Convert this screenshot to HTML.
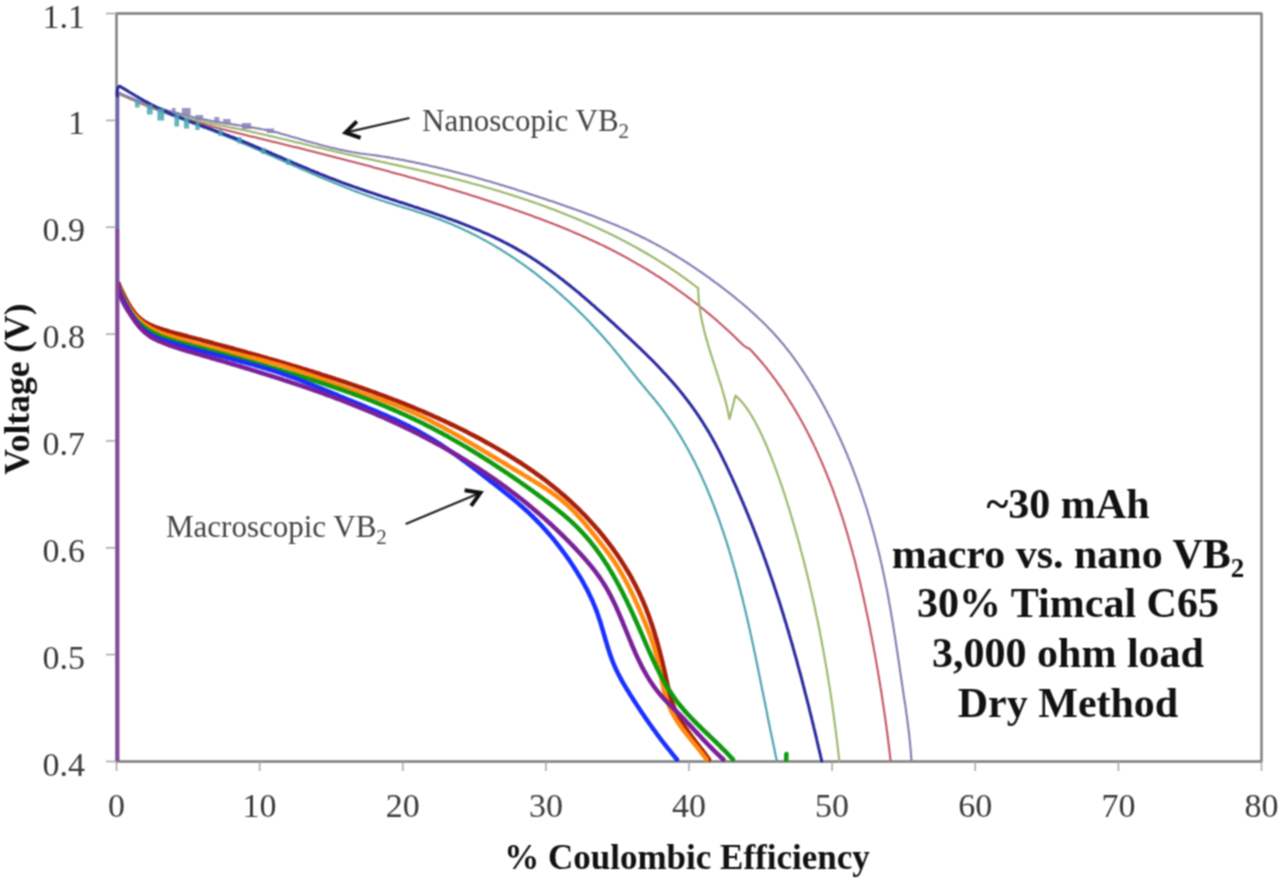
<!DOCTYPE html>
<html><head><meta charset="utf-8"><style>
html,body{margin:0;padding:0;background:#fff;}
body{width:1280px;height:881px;position:relative;overflow:hidden;font-family:"Liberation Serif",serif;}
#wrap{position:absolute;left:0;top:0;width:1280px;height:881px;filter:url(#soft);}
svg{position:absolute;left:0;top:0;}
.yl{position:absolute;left:0;width:85px;text-align:right;font-size:34px;line-height:38px;color:#3a3a3a;}
.xl{position:absolute;top:787px;width:80px;text-align:center;font-size:34px;line-height:38px;color:#3a3a3a;}
.ytitle{position:absolute;left:-83.5px;top:369px;width:200px;height:40px;line-height:40px;text-align:center;transform:rotate(-90deg);font-weight:bold;font-size:35.5px;color:#111;}
.xtitle{position:absolute;left:437px;top:838px;width:500px;text-align:center;font-weight:bold;font-size:35px;line-height:40px;color:#111;}
.note{position:absolute;font-size:31px;line-height:34px;color:#444;white-space:nowrap;}
.note sub{font-size:21px;vertical-align:-7px;line-height:0;}
.info{position:absolute;left:868px;top:480px;width:400px;text-align:center;font-weight:bold;font-size:42px;line-height:49.7px;color:#111;white-space:nowrap;}
.info sub{font-size:27px;vertical-align:-9px;line-height:0;}
</style></head><body><svg width="0" height="0" style="position:absolute;left:0;top:0"><filter id="soft" x="0" y="0" width="1" height="1" color-interpolation-filters="sRGB"><feConvolveMatrix order="3" kernelMatrix="1 2 1 2 4 2 1 2 1" divisor="16" edgeMode="none"/></filter></svg><div id="wrap">
<svg width="1280" height="881" viewBox="0 0 1280 881">
<rect x="116.5" y="13.5" width="1145.0" height="748.0" fill="none" stroke="#7c7c7c" stroke-width="2.4" stroke-linejoin="round"/>
<line x1="106" y1="761.5" x2="116.5" y2="761.5" stroke="#a4a4a4" stroke-width="1.5"/>
<line x1="106" y1="654.6" x2="116.5" y2="654.6" stroke="#a4a4a4" stroke-width="1.5"/>
<line x1="106" y1="547.8" x2="116.5" y2="547.8" stroke="#a4a4a4" stroke-width="1.5"/>
<line x1="106" y1="440.9" x2="116.5" y2="440.9" stroke="#a4a4a4" stroke-width="1.5"/>
<line x1="106" y1="334.1" x2="116.5" y2="334.1" stroke="#a4a4a4" stroke-width="1.5"/>
<line x1="106" y1="227.2" x2="116.5" y2="227.2" stroke="#a4a4a4" stroke-width="1.5"/>
<line x1="106" y1="120.4" x2="116.5" y2="120.4" stroke="#a4a4a4" stroke-width="1.5"/>
<line x1="106" y1="13.5" x2="116.5" y2="13.5" stroke="#a4a4a4" stroke-width="1.5"/>
<line x1="116.5" y1="761.5" x2="116.5" y2="771" stroke="#a4a4a4" stroke-width="1.5"/>
<line x1="259.6" y1="761.5" x2="259.6" y2="771" stroke="#a4a4a4" stroke-width="1.5"/>
<line x1="402.8" y1="761.5" x2="402.8" y2="771" stroke="#a4a4a4" stroke-width="1.5"/>
<line x1="545.9" y1="761.5" x2="545.9" y2="771" stroke="#a4a4a4" stroke-width="1.5"/>
<line x1="689.0" y1="761.5" x2="689.0" y2="771" stroke="#a4a4a4" stroke-width="1.5"/>
<line x1="832.1" y1="761.5" x2="832.1" y2="771" stroke="#a4a4a4" stroke-width="1.5"/>
<line x1="975.2" y1="761.5" x2="975.2" y2="771" stroke="#a4a4a4" stroke-width="1.5"/>
<line x1="1118.4" y1="761.5" x2="1118.4" y2="771" stroke="#a4a4a4" stroke-width="1.5"/>
<line x1="1261.5" y1="761.5" x2="1261.5" y2="771" stroke="#a4a4a4" stroke-width="1.5"/>
<line x1="117.6" y1="761" x2="117.6" y2="93" stroke="#6c66b0" stroke-width="3.4"/>
<path d="M118.5,93.5 L120.3,94.3 122.1,95.2 124.0,96.0 125.8,96.8 127.6,97.6 129.5,98.5 131.3,99.3 133.1,100.0 135.0,100.8 136.8,101.6 138.7,102.4 140.5,103.2 142.4,103.9 144.2,104.7 146.1,105.4 148.0,106.2 149.8,106.9 151.7,107.7 153.6,108.4 155.4,109.1 157.3,109.8 159.2,110.6 161.0,111.3 162.9,112.0 164.8,112.7 166.6,113.4 168.5,114.1 170.4,114.9 172.3,115.6 174.1,116.3 176.0,117.0 177.9,117.7 179.8,118.4 181.7,119.1 183.5,119.8 185.4,120.5 187.3,121.2 189.2,121.9 191.1,122.6 192.9,123.3 194.8,124.0 196.7,124.7 198.6,125.4 200.4,126.1 202.3,126.9 204.2,127.6 206.0,128.3 207.9,129.0 209.8,129.7 211.7,130.5 213.5,131.2 215.4,131.9 217.3,132.7 219.1,133.4 221.0,134.2 222.8,134.9 224.7,135.7 226.5,136.5 228.4,137.2 230.2,138.0 232.1,138.8 234.0,139.5 235.8,140.3 237.6,141.1 239.5,141.9 241.3,142.7 243.2,143.4 245.0,144.2 246.9,145.0 248.7,145.8 250.6,146.6 252.4,147.4 254.2,148.2 256.1,149.0 257.9,149.8 259.8,150.6 261.6,151.4 263.4,152.2 265.3,153.0 267.1,153.9 268.9,154.7 270.8,155.5 272.6,156.3 274.4,157.1 276.3,157.9 278.1,158.7 279.9,159.5 281.8,160.3 283.6,161.2 285.5,162.0 287.3,162.8 289.1,163.6 291.0,164.4 292.8,165.2 294.6,166.0 296.5,166.8 298.3,167.6 300.1,168.4 302.0,169.2 303.8,170.0 305.7,170.8 307.5,171.6 309.3,172.4 311.2,173.2 313.0,174.0 314.9,174.8 316.7,175.6 318.6,176.4 320.4,177.2 322.3,177.9 324.1,178.7 326.0,179.5 327.8,180.3 329.7,181.0 331.5,181.8 333.4,182.6 335.2,183.3 337.1,184.1 338.9,184.8 340.8,185.6 342.7,186.3 344.5,187.0 346.4,187.8 348.3,188.5 350.1,189.2 352.0,189.9 353.9,190.7 355.7,191.4 357.6,192.1 359.5,192.8 361.4,193.5 363.3,194.2 365.1,194.8 367.0,195.5 368.9,196.2 370.8,196.9 372.7,197.5 374.6,198.2 376.5,198.8 378.4,199.5 380.3,200.1 382.2,200.7 384.1,201.3 386.0,202.0 387.9,202.6 389.9,203.2 391.8,203.8 393.7,204.4 395.6,205.0 397.5,205.6 399.4,206.2 401.4,206.8 403.3,207.4 405.2,208.0 407.1,208.5 409.0,209.1 411.0,209.7 412.9,210.3 414.8,211.0 416.7,211.6 418.6,212.2 420.5,212.8 422.4,213.4 424.3,214.0 426.3,214.7 428.2,215.3 430.1,216.0 431.9,216.6 433.8,217.3 435.7,218.0 437.6,218.7 439.5,219.4 441.4,220.1 443.2,220.8 445.1,221.6 447.0,222.3 448.8,223.1 450.7,223.8 452.5,224.6 454.4,225.4 456.2,226.2 458.0,227.0 459.9,227.8 461.7,228.7 463.5,229.5 465.3,230.4 467.1,231.2 468.9,232.1 470.7,233.0 472.5,233.9 474.3,234.8 476.1,235.7 477.9,236.6 479.7,237.6 481.4,238.5 483.2,239.5 485.0,240.4 486.7,241.4 488.5,242.4 490.2,243.4 492.0,244.4 493.7,245.4 495.4,246.4 497.1,247.5 498.9,248.5 500.6,249.5 502.3,250.6 504.0,251.7 505.7,252.7 507.4,253.8 509.1,254.9 510.7,256.0 512.4,257.1 514.1,258.2 515.8,259.3 517.4,260.5 519.1,261.6 520.7,262.8 522.4,263.9 524.0,265.1 525.6,266.2 527.2,267.4 528.9,268.6 530.5,269.8 532.1,271.0 533.7,272.2 535.3,273.4 536.9,274.6 538.5,275.9 540.0,277.1 541.6,278.4 543.2,279.6 544.7,280.9 546.3,282.1 547.8,283.4 549.4,284.7 550.9,286.0 552.5,287.2 554.0,288.5 555.5,289.8 557.0,291.2 558.5,292.5 560.0,293.8 561.5,295.1 563.0,296.5 564.5,297.8 566.0,299.2 567.5,300.5 568.9,301.9 570.4,303.2 571.9,304.6 573.3,306.0 574.8,307.4 576.2,308.8 577.7,310.2 579.1,311.6 580.5,313.0 581.9,314.4 583.4,315.8 584.8,317.3 586.2,318.7 587.6,320.1 589.0,321.6 590.3,323.0 591.7,324.5 593.1,325.9 594.5,327.4 595.8,328.9 597.2,330.3 598.5,331.8 599.9,333.3 601.2,334.8 602.6,336.3 603.9,337.8 605.2,339.3 606.6,340.8 607.9,342.3 609.2,343.8 610.5,345.4 611.8,346.9 613.1,348.4 614.4,350.0 615.6,351.5 616.9,353.1 618.2,354.6 619.5,356.2 620.7,357.7 622.0,359.3 623.2,360.9 624.5,362.4 625.7,364.0 626.9,365.6 628.2,367.1 629.4,368.7 630.7,370.3 631.9,371.9 633.2,373.4 634.4,375.0 635.7,376.6 636.9,378.2 638.2,379.7 639.4,381.3 640.7,382.8 642.0,384.4 643.3,385.9 644.6,387.5 645.8,389.0 647.1,390.6 648.4,392.1 649.7,393.7 651.0,395.2 652.3,396.7 653.6,398.3 654.9,399.9 656.1,401.4 657.4,403.0 658.6,404.6 659.9,406.1 661.1,407.7 662.3,409.3 663.5,410.9 664.7,412.6 665.8,414.2 667.0,415.8 668.2,417.4 669.3,419.1 670.4,420.7 671.6,422.4 672.7,424.0 673.8,425.7 674.9,427.4 676.0,429.1 677.0,430.8 678.1,432.5 679.1,434.2 680.2,435.9 681.2,437.6 682.2,439.3 683.2,441.0 684.2,442.8 685.2,444.5 686.2,446.2 687.2,448.0 688.2,449.7 689.1,451.5 690.1,453.3 691.0,455.0 691.9,456.8 692.8,458.6 693.8,460.4 694.7,462.1 695.6,463.9 696.4,465.7 697.3,467.5 698.2,469.3 699.1,471.1 699.9,473.0 700.8,474.8 701.6,476.6 702.4,478.4 703.2,480.3 704.1,482.1 704.9,483.9 705.7,485.8 706.5,487.6 707.2,489.4 708.0,491.3 708.8,493.1 709.5,495.0 710.3,496.8 711.1,498.7 711.8,500.6 712.5,502.4 713.3,504.3 714.0,506.2 714.7,508.0 715.4,509.9 716.1,511.8 716.8,513.7 717.5,515.5 718.2,517.4 718.9,519.3 719.5,521.2 720.2,523.1 720.9,525.0 721.5,526.9 722.2,528.8 722.8,530.7 723.5,532.6 724.1,534.5 724.7,536.4 725.3,538.3 726.0,540.2 726.6,542.1 727.2,544.0 727.8,545.9 728.4,547.8 729.0,549.7 729.5,551.6 730.1,553.6 730.7,555.5 731.3,557.4 731.8,559.3 732.4,561.2 733.0,563.2 733.5,565.1 734.1,567.0 734.6,569.0 735.2,570.9 735.7,572.8 736.2,574.7 736.7,576.7 737.3,578.6 737.8,580.6 738.3,582.5 738.8,584.4 739.3,586.4 739.8,588.3 740.3,590.3 740.8,592.2 741.3,594.2 741.8,596.1 742.3,598.1 742.8,600.0 743.3,602.0 743.7,603.9 744.2,605.9 744.7,607.8 745.1,609.8 745.6,611.7 746.1,613.7 746.5,615.6 747.0,617.6 747.4,619.6 747.9,621.5 748.3,623.5 748.8,625.4 749.2,627.4 749.6,629.4 750.1,631.3 750.5,633.3 751.0,635.2 751.4,637.2 751.8,639.2 752.2,641.1 752.7,643.1 753.1,645.1 753.5,647.0 753.9,649.0 754.3,651.0 754.8,652.9 755.2,654.9 755.6,656.9 756.0,658.9 756.4,660.8 756.8,662.8 757.2,664.8 757.6,666.7 758.0,668.7 758.4,670.7 758.8,672.6 759.2,674.6 759.6,676.6 760.0,678.6 760.4,680.5 760.8,682.5 761.2,684.5 761.6,686.4 762.0,688.4 762.4,690.4 762.8,692.3 763.2,694.3 763.6,696.3 764.0,698.3 764.4,700.2 764.8,702.2 765.2,704.2 765.6,706.1 766.0,708.1 766.4,710.1 766.8,712.0 767.2,714.0 767.5,716.0 767.9,717.9 768.3,719.9 768.7,721.9 769.1,723.8 769.5,725.8 769.9,727.8 770.3,729.7 770.7,731.7 771.1,733.6 771.5,735.6 771.9,737.6 772.4,739.5 772.8,741.5 773.2,743.4 773.6,745.4 774.0,747.3 774.4,749.3 774.8,751.2 775.2,753.2 775.6,755.2 776.1,757.1 776.5,759.1 776.9,761.0" fill="none" stroke="#4ea4b0" stroke-width="2.2" stroke-linejoin="round" stroke-linecap="round"/>
<path d="M118.5,93.5 L120.3,94.4 122.2,95.2 124.0,96.0 125.8,96.9 127.7,97.7 129.5,98.5 131.4,99.3 133.2,100.1 135.1,100.9 136.9,101.7 138.8,102.4 140.6,103.2 142.5,103.9 144.4,104.7 146.2,105.4 148.1,106.1 150.0,106.8 151.9,107.5 153.8,108.2 155.6,108.9 157.5,109.6 159.4,110.3 161.3,111.0 163.2,111.6 165.1,112.3 167.0,112.9 168.9,113.6 170.8,114.2 172.7,114.8 174.6,115.5 176.5,116.1 178.4,116.7 180.3,117.3 182.3,117.9 184.2,118.5 186.1,119.1 188.0,119.6 189.9,120.2 191.9,120.8 193.8,121.4 195.7,121.9 197.6,122.5 199.6,123.0 201.5,123.6 203.4,124.1 205.4,124.6 207.3,125.2 209.2,125.7 211.2,126.2 213.1,126.8 215.1,127.3 217.0,127.8 218.9,128.3 220.9,128.8 222.8,129.3 224.8,129.8 226.7,130.3 228.7,130.8 230.6,131.3 232.6,131.8 234.5,132.3 236.5,132.8 238.4,133.3 240.4,133.8 242.3,134.2 244.3,134.7 246.2,135.2 248.2,135.7 250.1,136.2 252.1,136.6 254.0,137.1 256.0,137.6 257.9,138.1 259.9,138.5 261.9,139.0 263.8,139.5 265.8,140.0 267.7,140.4 269.7,140.9 271.6,141.4 273.6,141.9 275.5,142.3 277.5,142.8 279.4,143.3 281.4,143.8 283.3,144.3 285.3,144.7 287.2,145.2 289.2,145.7 291.2,146.2 293.1,146.7 295.1,147.1 297.0,147.6 299.0,148.1 300.9,148.6 302.9,149.1 304.8,149.6 306.8,150.1 308.7,150.5 310.7,151.0 312.6,151.5 314.6,152.0 316.5,152.5 318.4,153.0 320.4,153.5 322.3,154.0 324.3,154.5 326.2,155.0 328.2,155.5 330.1,156.0 332.1,156.5 334.0,157.0 336.0,157.5 337.9,158.0 339.9,158.5 341.8,159.0 343.8,159.5 345.7,160.0 347.6,160.5 349.6,161.0 351.5,161.5 353.5,162.0 355.4,162.5 357.4,163.0 359.3,163.6 361.2,164.1 363.2,164.6 365.1,165.1 367.1,165.6 369.0,166.1 371.0,166.6 372.9,167.2 374.8,167.7 376.8,168.2 378.7,168.7 380.7,169.2 382.6,169.8 384.5,170.3 386.5,170.8 388.4,171.3 390.4,171.9 392.3,172.4 394.2,172.9 396.2,173.5 398.1,174.0 400.1,174.5 402.0,175.1 403.9,175.6 405.9,176.1 407.8,176.7 409.7,177.2 411.7,177.8 413.6,178.3 415.5,178.8 417.5,179.4 419.4,179.9 421.3,180.5 423.3,181.0 425.2,181.6 427.1,182.1 429.1,182.7 431.0,183.3 432.9,183.8 434.9,184.4 436.8,184.9 438.7,185.5 440.7,186.1 442.6,186.6 444.5,187.2 446.4,187.8 448.4,188.4 450.3,188.9 452.2,189.5 454.1,190.1 456.1,190.7 458.0,191.3 459.9,191.8 461.8,192.4 463.7,193.0 465.7,193.6 467.6,194.2 469.5,194.8 471.4,195.4 473.3,196.0 475.3,196.6 477.2,197.2 479.1,197.8 481.0,198.4 482.9,199.1 484.8,199.7 486.7,200.3 488.7,200.9 490.6,201.5 492.5,202.2 494.4,202.8 496.3,203.4 498.2,204.1 500.1,204.7 502.0,205.3 503.9,206.0 505.8,206.6 507.7,207.3 509.6,207.9 511.5,208.6 513.4,209.3 515.3,209.9 517.2,210.6 519.1,211.2 521.0,211.9 522.9,212.6 524.8,213.3 526.7,213.9 528.6,214.6 530.5,215.3 532.4,216.0 534.3,216.7 536.1,217.4 538.0,218.1 539.9,218.8 541.8,219.5 543.7,220.2 545.5,220.9 547.4,221.6 549.3,222.4 551.2,223.1 553.0,223.8 554.9,224.6 556.8,225.3 558.7,226.0 560.5,226.8 562.4,227.5 564.2,228.3 566.1,229.1 568.0,229.8 569.8,230.6 571.7,231.4 573.5,232.2 575.4,233.0 577.2,233.8 579.0,234.5 580.9,235.4 582.7,236.2 584.6,237.0 586.4,237.8 588.2,238.6 590.0,239.5 591.9,240.3 593.7,241.1 595.5,242.0 597.3,242.8 599.1,243.7 601.0,244.6 602.8,245.4 604.6,246.3 606.4,247.2 608.2,248.1 610.0,249.0 611.8,249.9 613.5,250.8 615.3,251.7 617.1,252.7 618.9,253.6 620.7,254.5 622.4,255.5 624.2,256.4 626.0,257.4 627.7,258.4 629.5,259.3 631.2,260.3 633.0,261.3 634.7,262.3 636.5,263.3 638.2,264.3 640.0,265.3 641.7,266.3 643.4,267.4 645.1,268.4 646.9,269.4 648.6,270.5 650.3,271.6 652.0,272.6 653.7,273.7 655.4,274.8 657.1,275.8 658.8,276.9 660.5,278.0 662.2,279.1 663.8,280.2 665.5,281.3 667.2,282.5 668.8,283.6 670.5,284.7 672.2,285.9 673.8,287.0 675.5,288.2 677.1,289.3 678.7,290.5 680.4,291.7 682.0,292.8 683.6,294.0 685.2,295.2 686.9,296.4 688.5,297.6 690.1,298.8 691.7,300.0 693.3,301.3 694.9,302.5 696.5,303.7 698.0,305.0 699.6,306.2 701.2,307.5 702.7,308.7 704.3,310.0 705.9,311.3 707.4,312.6 709.0,313.8 710.5,315.1 712.0,316.4 713.6,317.7 715.1,319.0 716.6,320.3 718.1,321.7 719.6,323.0 721.1,324.3 722.6,325.7 724.1,327.0 725.6,328.4 727.1,329.7 728.6,331.1 730.0,332.4 731.5,333.8 733.0,335.2 734.4,336.6 735.9,338.0 737.3,339.4 738.7,340.8 740.2,342.2 741.6,343.6 743.0,345.0 746.5,347.5 749.5,348.8 750.9,350.3 752.3,351.7 753.7,353.2 755.0,354.7 756.4,356.2 757.7,357.7 759.0,359.2 760.3,360.8 761.6,362.3 762.9,363.8 764.2,365.4 765.5,366.9 766.8,368.5 768.0,370.1 769.2,371.7 770.5,373.3 771.7,374.9 772.9,376.5 774.1,378.1 775.3,379.7 776.5,381.3 777.6,383.0 778.8,384.6 780.0,386.3 781.1,387.9 782.2,389.6 783.4,391.2 784.5,392.9 785.6,394.6 786.7,396.3 787.8,398.0 788.9,399.7 789.9,401.4 791.0,403.1 792.0,404.8 793.1,406.5 794.1,408.3 795.2,410.0 796.2,411.7 797.2,413.5 798.2,415.2 799.2,417.0 800.2,418.7 801.2,420.5 802.2,422.2 803.1,424.0 804.1,425.8 805.0,427.6 806.0,429.4 806.9,431.1 807.8,432.9 808.8,434.7 809.7,436.5 810.6,438.3 811.5,440.2 812.4,442.0 813.3,443.8 814.1,445.6 815.0,447.4 815.9,449.3 816.7,451.1 817.6,452.9 818.4,454.8 819.2,456.6 820.0,458.4 820.9,460.3 821.7,462.2 822.5,464.0 823.3,465.9 824.1,467.7 824.8,469.6 825.6,471.5 826.4,473.3 827.1,475.2 827.9,477.1 828.6,479.0 829.4,480.8 830.1,482.7 830.8,484.6 831.6,486.5 832.3,488.4 833.0,490.3 833.7,492.2 834.4,494.1 835.0,496.0 835.7,497.9 836.4,499.8 837.1,501.7 837.7,503.6 838.4,505.5 839.0,507.4 839.7,509.3 840.3,511.2 840.9,513.1 841.6,515.1 842.2,517.0 842.8,518.9 843.4,520.8 844.0,522.7 844.6,524.7 845.2,526.6 845.8,528.5 846.4,530.5 846.9,532.4 847.5,534.3 848.1,536.3 848.6,538.2 849.2,540.1 849.7,542.1 850.3,544.0 850.8,545.9 851.3,547.9 851.9,549.8 852.4,551.8 852.9,553.7 853.4,555.7 854.0,557.6 854.5,559.6 855.0,561.5 855.5,563.5 856.0,565.4 856.4,567.4 856.9,569.4 857.4,571.3 857.9,573.3 858.4,575.2 858.8,577.2 859.3,579.1 859.8,581.1 860.2,583.1 860.7,585.0 861.1,587.0 861.6,589.0 862.0,590.9 862.5,592.9 862.9,594.9 863.3,596.8 863.8,598.8 864.2,600.8 864.6,602.8 865.1,604.7 865.5,606.7 865.9,608.7 866.3,610.7 866.7,612.6 867.1,614.6 867.6,616.6 868.0,618.6 868.4,620.5 868.8,622.5 869.2,624.5 869.6,626.5 870.0,628.4 870.3,630.4 870.7,632.4 871.1,634.4 871.5,636.4 871.9,638.4 872.3,640.3 872.6,642.3 873.0,644.3 873.4,646.3 873.8,648.3 874.1,650.3 874.5,652.2 874.9,654.2 875.2,656.2 875.6,658.2 875.9,660.2 876.3,662.2 876.6,664.2 877.0,666.1 877.3,668.1 877.7,670.1 878.0,672.1 878.3,674.1 878.7,676.1 879.0,678.1 879.3,680.1 879.7,682.1 880.0,684.1 880.3,686.0 880.6,688.0 881.0,690.0 881.3,692.0 881.6,694.0 881.9,696.0 882.2,698.0 882.5,700.0 882.8,702.0 883.1,704.0 883.4,706.0 883.7,708.0 884.0,710.0 884.3,712.0 884.6,714.0 884.9,716.0 885.2,718.0 885.4,720.0 885.7,722.0 886.0,724.0 886.3,726.0 886.5,728.0 886.8,730.0 887.1,732.0 887.3,734.0 887.6,736.0 887.8,738.0 888.1,740.0 888.4,742.0 888.6,744.0 888.8,746.0 889.1,748.0 889.3,750.0 889.6,752.0 889.8,754.0 890.0,756.0 890.3,758.0 890.5,760.0" fill="none" stroke="#c45664" stroke-width="2.1" stroke-linejoin="round" stroke-linecap="round"/>
<path d="M118.5,93.0 L120.3,93.8 122.2,94.6 124.0,95.4 125.9,96.2 127.7,97.0 129.6,97.8 131.4,98.5 133.3,99.3 135.1,100.1 137.0,100.8 138.9,101.6 140.7,102.3 142.6,103.0 144.5,103.8 146.3,104.5 148.2,105.2 150.1,105.9 152.0,106.6 153.9,107.3 155.7,108.0 157.6,108.7 159.5,109.3 161.4,110.0 163.3,110.7 165.2,111.3 167.1,111.9 169.0,112.5 171.0,113.2 172.9,113.8 174.8,114.4 176.7,114.9 178.6,115.5 180.5,116.1 182.5,116.6 184.4,117.2 186.3,117.7 188.3,118.2 190.2,118.7 192.2,119.2 194.1,119.7 196.1,120.2 198.0,120.6 200.0,121.1 201.9,121.5 203.9,122.0 205.9,122.4 207.8,122.8 209.8,123.2 211.7,123.6 213.7,124.0 215.7,124.4 217.7,124.8 219.6,125.2 221.6,125.6 223.6,126.0 225.5,126.4 227.5,126.8 229.5,127.2 231.5,127.6 233.4,128.0 235.4,128.4 237.4,128.8 239.3,129.2 241.3,129.6 243.3,130.0 245.2,130.4 247.2,130.8 249.2,131.3 251.1,131.7 253.1,132.1 255.0,132.5 257.0,133.0 259.0,133.4 260.9,133.9 262.9,134.3 264.8,134.8 266.8,135.2 268.7,135.7 270.7,136.1 272.7,136.6 274.6,137.0 276.6,137.5 278.5,138.0 280.5,138.4 282.4,138.9 284.4,139.4 286.3,139.8 288.3,140.3 290.2,140.8 292.2,141.2 294.1,141.7 296.1,142.2 298.0,142.6 300.0,143.1 301.9,143.6 303.9,144.1 305.8,144.5 307.8,145.0 309.7,145.5 311.7,145.9 313.6,146.4 315.6,146.9 317.5,147.4 319.5,147.8 321.4,148.3 323.4,148.7 325.3,149.2 327.3,149.7 329.3,150.1 331.2,150.6 333.2,151.0 335.1,151.5 337.1,151.9 339.0,152.4 341.0,152.8 343.0,153.3 344.9,153.7 346.9,154.2 348.8,154.6 350.8,155.0 352.8,155.5 354.7,155.9 356.7,156.4 358.6,156.8 360.6,157.2 362.6,157.7 364.5,158.1 366.5,158.5 368.5,159.0 370.4,159.4 372.4,159.8 374.3,160.2 376.3,160.7 378.3,161.1 380.2,161.5 382.2,162.0 384.2,162.4 386.1,162.8 388.1,163.3 390.0,163.7 392.0,164.1 394.0,164.6 395.9,165.0 397.9,165.4 399.8,165.9 401.8,166.3 403.8,166.7 405.7,167.2 407.7,167.6 409.7,168.1 411.6,168.5 413.6,168.9 415.5,169.4 417.5,169.8 419.4,170.3 421.4,170.7 423.4,171.2 425.3,171.6 427.3,172.1 429.2,172.6 431.2,173.0 433.1,173.5 435.1,174.0 437.0,174.4 439.0,174.9 440.9,175.4 442.9,175.9 444.8,176.3 446.8,176.8 448.7,177.3 450.7,177.8 452.6,178.3 454.6,178.8 456.5,179.3 458.5,179.8 460.4,180.3 462.3,180.8 464.3,181.3 466.2,181.8 468.2,182.3 470.1,182.9 472.0,183.4 474.0,183.9 475.9,184.4 477.8,185.0 479.8,185.5 481.7,186.1 483.6,186.6 485.5,187.2 487.5,187.7 489.4,188.3 491.3,188.8 493.2,189.4 495.2,190.0 497.1,190.5 499.0,191.1 500.9,191.7 502.8,192.3 504.8,192.9 506.7,193.5 508.6,194.1 510.5,194.7 512.4,195.3 514.3,195.9 516.2,196.5 518.1,197.1 520.0,197.8 522.0,198.4 523.9,199.0 525.8,199.7 527.7,200.3 529.6,200.9 531.4,201.6 533.3,202.2 535.2,202.9 537.1,203.6 539.0,204.2 540.9,204.9 542.8,205.6 544.7,206.3 546.6,207.0 548.5,207.7 550.3,208.4 552.2,209.1 554.1,209.8 556.0,210.5 557.8,211.2 559.7,211.9 561.6,212.7 563.5,213.4 565.3,214.2 567.2,214.9 569.1,215.7 570.9,216.4 572.8,217.2 574.6,217.9 576.5,218.7 578.3,219.5 580.2,220.3 582.0,221.1 583.9,221.9 585.7,222.7 587.6,223.5 589.4,224.3 591.2,225.1 593.1,225.9 594.9,226.8 596.7,227.6 598.6,228.5 600.4,229.3 602.2,230.2 604.0,231.0 605.8,231.9 607.7,232.8 609.5,233.6 611.3,234.5 613.1,235.4 614.9,236.3 616.7,237.2 618.5,238.1 620.3,239.0 622.0,240.0 623.8,240.9 625.6,241.8 627.4,242.8 629.2,243.7 630.9,244.6 632.7,245.6 634.5,246.6 636.2,247.5 638.0,248.5 639.7,249.5 641.5,250.5 643.2,251.5 645.0,252.5 646.7,253.5 648.4,254.5 650.1,255.5 651.9,256.6 653.6,257.6 655.3,258.7 657.0,259.7 658.7,260.8 660.4,261.8 662.1,262.9 663.8,264.0 665.5,265.1 667.2,266.1 668.9,267.2 670.5,268.3 672.2,269.5 673.9,270.6 675.5,271.7 677.2,272.8 678.8,274.0 680.5,275.1 682.1,276.3 683.7,277.4 685.4,278.6 687.0,279.8 688.6,281.0 690.2,282.1 691.8,283.3 693.4,284.5 695.0,285.8 696.6,287.0 698.2,288.2 698.2,290.3 698.3,292.3 698.4,294.4 698.5,296.4 698.6,298.5 698.8,300.5 699.0,302.5 699.2,304.6 699.5,306.6 699.8,308.6 700.1,310.6 700.4,312.6 700.7,314.6 701.1,316.6 701.5,318.6 701.9,320.6 702.3,322.6 702.7,324.6 703.2,326.6 703.7,328.6 704.1,330.5 704.7,332.5 705.2,334.5 705.7,336.5 706.2,338.4 706.8,340.4 707.4,342.3 707.9,344.3 708.5,346.3 709.1,348.2 709.7,350.2 710.3,352.1 710.9,354.1 711.6,356.0 712.2,358.0 712.8,360.0 713.4,361.9 714.1,363.9 714.7,365.8 715.3,367.8 716.0,369.7 716.6,371.7 717.2,373.6 717.9,375.6 718.5,377.5 719.1,379.5 719.7,381.4 720.4,383.4 721.0,385.3 721.6,387.3 722.1,389.3 722.7,391.2 723.3,393.2 723.9,395.2 724.4,397.1 724.9,399.1 725.5,401.1 726.0,403.1 726.5,405.0 727.0,407.0 727.4,409.0 727.9,411.0 728.3,413.0 728.7,415.0 729.1,417.0 729.5,419.0 735.5,395.5 737.0,396.9 738.4,398.2 739.8,399.7 741.2,401.2 742.5,402.7 743.7,404.2 744.9,405.8 746.1,407.4 747.3,409.0 748.4,410.6 749.5,412.3 750.5,414.0 751.6,415.7 752.6,417.4 753.6,419.2 754.6,420.9 755.5,422.7 756.5,424.5 757.4,426.2 758.3,428.0 759.2,429.8 760.1,431.6 761.0,433.5 761.9,435.3 762.7,437.1 763.5,439.0 764.4,440.8 765.2,442.7 766.0,444.5 766.8,446.4 767.6,448.2 768.3,450.1 769.1,452.0 769.9,453.9 770.6,455.7 771.4,457.6 772.1,459.5 772.8,461.4 773.5,463.2 774.3,465.1 775.0,467.0 775.7,468.9 776.4,470.8 777.1,472.7 777.7,474.6 778.4,476.5 779.1,478.3 779.8,480.2 780.4,482.1 781.1,484.0 781.7,485.9 782.4,487.8 783.0,489.7 783.6,491.6 784.3,493.5 784.9,495.5 785.5,497.4 786.1,499.3 786.7,501.2 787.3,503.1 787.9,505.0 788.5,506.9 789.1,508.8 789.7,510.8 790.3,512.7 790.9,514.6 791.4,516.5 792.0,518.4 792.6,520.4 793.1,522.3 793.7,524.2 794.3,526.1 794.8,528.1 795.4,530.0 795.9,531.9 796.5,533.9 797.0,535.8 797.6,537.7 798.1,539.7 798.6,541.6 799.2,543.6 799.7,545.5 800.2,547.4 800.7,549.4 801.2,551.3 801.8,553.3 802.3,555.2 802.8,557.1 803.3,559.1 803.8,561.0 804.3,563.0 804.8,564.9 805.3,566.9 805.7,568.8 806.2,570.8 806.7,572.7 807.2,574.7 807.7,576.7 808.1,578.6 808.6,580.6 809.1,582.5 809.5,584.5 810.0,586.4 810.5,588.4 810.9,590.4 811.4,592.3 811.8,594.3 812.3,596.2 812.7,598.2 813.1,600.2 813.6,602.1 814.0,604.1 814.4,606.1 814.9,608.0 815.3,610.0 815.7,612.0 816.1,614.0 816.5,615.9 817.0,617.9 817.4,619.9 817.8,621.8 818.2,623.8 818.6,625.8 819.0,627.8 819.4,629.7 819.8,631.7 820.1,633.7 820.5,635.7 820.9,637.7 821.3,639.6 821.7,641.6 822.0,643.6 822.4,645.6 822.8,647.5 823.2,649.5 823.5,651.5 823.9,653.5 824.2,655.5 824.6,657.5 824.9,659.4 825.3,661.4 825.6,663.4 826.0,665.4 826.3,667.4 826.7,669.4 827.0,671.4 827.3,673.3 827.7,675.3 828.0,677.3 828.3,679.3 828.6,681.3 828.9,683.3 829.3,685.3 829.6,687.3 829.9,689.3 830.2,691.2 830.5,693.2 830.8,695.2 831.1,697.2 831.4,699.2 831.7,701.2 832.0,703.2 832.3,705.2 832.6,707.2 832.8,709.2 833.1,711.2 833.4,713.1 833.7,715.1 833.9,717.1 834.2,719.1 834.5,721.1 834.7,723.1 835.0,725.1 835.3,727.1 835.5,729.1 835.8,731.1 836.0,733.1 836.3,735.1 836.5,737.1 836.8,739.1 837.0,741.1 837.3,743.1 837.5,745.0 837.7,747.0 838.0,749.0 838.2,751.0 838.4,753.0 838.6,755.0 838.9,757.0 839.1,759.0 839.3,761.0" fill="none" stroke="#9ab66a" stroke-width="2.1" stroke-linejoin="round" stroke-linecap="round"/>
<path d="M118.5,92.5 L120.3,93.3 122.2,94.1 124.0,94.9 125.9,95.7 127.7,96.4 129.6,97.2 131.4,98.0 133.3,98.7 135.1,99.4 137.0,100.1 138.9,100.9 140.8,101.6 142.6,102.2 144.5,102.9 146.4,103.6 148.3,104.3 150.2,104.9 152.1,105.5 154.0,106.2 155.9,106.8 157.8,107.4 159.7,108.0 161.6,108.6 163.5,109.2 165.5,109.8 167.4,110.4 169.3,110.9 171.2,111.5 173.2,112.0 175.1,112.6 177.0,113.1 179.0,113.6 180.9,114.1 182.8,114.6 184.8,115.1 186.7,115.6 188.7,116.1 190.6,116.5 192.6,117.0 194.5,117.4 196.5,117.9 198.4,118.3 200.4,118.7 202.4,119.1 204.3,119.5 206.3,119.9 208.3,120.3 210.2,120.7 212.2,121.1 214.2,121.4 216.1,121.8 218.1,122.1 220.1,122.4 222.1,122.8 224.1,123.1 226.1,123.4 228.0,123.7 230.0,124.0 232.0,124.3 234.0,124.6 236.0,124.9 238.0,125.2 239.9,125.5 241.9,125.8 243.9,126.1 245.9,126.4 247.9,126.7 249.9,127.1 251.8,127.4 253.8,127.7 255.8,128.1 257.7,128.4 259.7,128.8 261.7,129.2 263.6,129.5 265.6,129.9 267.6,130.3 269.5,130.8 271.5,131.2 273.4,131.7 275.3,132.1 277.3,132.6 279.2,133.1 281.1,133.7 283.1,134.2 285.0,134.7 286.9,135.3 288.8,135.8 290.7,136.4 292.7,136.9 294.6,137.5 296.5,138.1 298.4,138.6 300.4,139.2 302.3,139.8 304.2,140.3 306.1,140.9 308.1,141.4 310.0,142.0 311.9,142.5 313.9,143.1 315.8,143.6 317.7,144.1 319.7,144.7 321.6,145.2 323.6,145.7 325.5,146.2 327.5,146.7 329.4,147.2 331.3,147.7 333.3,148.1 335.3,148.6 337.2,149.0 339.2,149.5 341.1,149.9 343.1,150.3 345.0,150.7 347.0,151.1 349.0,151.5 350.9,151.8 352.9,152.2 354.9,152.5 356.9,152.9 358.8,153.2 360.8,153.5 362.8,153.7 364.8,154.0 366.7,154.3 368.7,154.5 370.7,154.8 372.7,155.0 374.7,155.3 376.6,155.6 378.6,155.9 380.6,156.2 382.6,156.5 384.5,156.8 386.5,157.1 388.5,157.4 390.5,157.8 392.4,158.1 394.4,158.5 396.4,158.8 398.4,159.2 400.3,159.6 402.3,159.9 404.3,160.3 406.2,160.7 408.2,161.1 410.2,161.5 412.1,161.9 414.1,162.3 416.0,162.7 418.0,163.1 420.0,163.6 421.9,164.0 423.9,164.4 425.8,164.8 427.8,165.3 429.7,165.7 431.7,166.2 433.6,166.6 435.6,167.1 437.5,167.6 439.5,168.0 441.4,168.5 443.4,169.0 445.3,169.5 447.3,169.9 449.2,170.4 451.2,170.9 453.1,171.4 455.0,171.9 457.0,172.4 458.9,172.9 460.8,173.4 462.8,173.9 464.7,174.5 466.7,175.0 468.6,175.5 470.5,176.0 472.4,176.6 474.4,177.1 476.3,177.7 478.2,178.2 480.2,178.8 482.1,179.3 484.0,179.9 485.9,180.4 487.9,181.0 489.8,181.5 491.7,182.1 493.6,182.7 495.6,183.3 497.5,183.8 499.4,184.4 501.3,185.0 503.2,185.6 505.1,186.2 507.1,186.8 509.0,187.3 510.9,187.9 512.8,188.5 514.7,189.1 516.6,189.7 518.5,190.4 520.5,191.0 522.4,191.6 524.3,192.2 526.2,192.8 528.1,193.4 530.0,194.0 531.9,194.7 533.8,195.3 535.7,195.9 537.6,196.5 539.5,197.2 541.4,197.8 543.3,198.4 545.2,199.1 547.1,199.7 549.0,200.4 550.9,201.0 552.9,201.6 554.8,202.3 556.7,202.9 558.5,203.6 560.4,204.2 562.3,204.9 564.2,205.6 566.1,206.2 568.0,206.9 569.9,207.5 571.8,208.2 573.7,208.9 575.6,209.6 577.5,210.2 579.4,210.9 581.3,211.6 583.1,212.3 585.0,213.0 586.9,213.7 588.8,214.4 590.6,215.1 592.5,215.8 594.4,216.5 596.3,217.2 598.1,218.0 600.0,218.7 601.9,219.4 603.7,220.2 605.6,220.9 607.4,221.7 609.3,222.4 611.1,223.2 613.0,223.9 614.8,224.7 616.7,225.5 618.5,226.3 620.4,227.1 622.2,227.9 624.0,228.7 625.8,229.5 627.7,230.3 629.5,231.1 631.3,232.0 633.1,232.8 634.9,233.7 636.7,234.5 638.5,235.4 640.3,236.3 642.1,237.2 643.9,238.0 645.7,238.9 647.5,239.9 649.3,240.8 651.1,241.7 652.8,242.6 654.6,243.6 656.4,244.5 658.1,245.5 659.9,246.4 661.6,247.4 663.4,248.4 665.1,249.4 666.9,250.4 668.6,251.4 670.3,252.4 672.0,253.4 673.8,254.5 675.5,255.5 677.2,256.6 678.9,257.6 680.6,258.7 682.3,259.7 684.0,260.8 685.7,261.9 687.4,263.0 689.1,264.1 690.8,265.2 692.4,266.3 694.1,267.4 695.8,268.5 697.4,269.7 699.1,270.8 700.8,271.9 702.4,273.1 704.0,274.2 705.7,275.4 707.3,276.6 709.0,277.7 710.6,278.9 712.2,280.1 713.8,281.3 715.4,282.5 717.1,283.7 718.7,284.9 720.3,286.1 721.9,287.3 723.5,288.5 725.1,289.7 726.6,291.0 728.2,292.2 729.8,293.4 731.4,294.7 732.9,295.9 734.5,297.2 736.0,298.4 737.6,299.7 739.1,301.0 740.7,302.3 742.2,303.5 743.7,304.8 745.2,306.1 746.8,307.4 748.3,308.8 749.8,310.1 751.2,311.4 752.7,312.7 754.2,314.1 755.7,315.4 757.1,316.8 758.6,318.2 760.0,319.5 761.5,320.9 762.9,322.3 764.3,323.7 765.7,325.1 767.1,326.5 768.5,328.0 769.9,329.4 771.3,330.8 772.6,332.3 774.0,333.8 775.3,335.2 776.7,336.7 778.0,338.2 779.3,339.7 780.6,341.2 781.9,342.8 783.2,344.3 784.5,345.8 785.7,347.4 787.0,349.0 788.2,350.5 789.4,352.1 790.7,353.7 791.9,355.3 793.1,356.9 794.3,358.6 795.4,360.2 796.6,361.8 797.8,363.5 798.9,365.1 800.1,366.8 801.2,368.4 802.3,370.1 803.4,371.8 804.5,373.5 805.6,375.2 806.7,376.9 807.8,378.6 808.9,380.3 809.9,382.0 811.0,383.7 812.1,385.4 813.1,387.1 814.1,388.9 815.2,390.6 816.2,392.3 817.2,394.1 818.2,395.8 819.2,397.6 820.2,399.3 821.1,401.1 822.1,402.8 823.1,404.6 824.0,406.4 825.0,408.1 825.9,409.9 826.9,411.7 827.8,413.5 828.7,415.2 829.6,417.0 830.6,418.8 831.5,420.6 832.3,422.4 833.2,424.2 834.1,426.0 835.0,427.8 835.9,429.6 836.7,431.4 837.6,433.2 838.4,435.0 839.3,436.9 840.1,438.7 840.9,440.5 841.7,442.3 842.5,444.2 843.3,446.0 844.1,447.8 844.9,449.7 845.7,451.5 846.5,453.3 847.3,455.2 848.0,457.0 848.8,458.9 849.6,460.7 850.3,462.6 851.0,464.4 851.8,466.3 852.5,468.2 853.2,470.0 853.9,471.9 854.6,473.8 855.3,475.6 856.0,477.5 856.7,479.4 857.4,481.3 858.1,483.2 858.8,485.0 859.4,486.9 860.1,488.8 860.8,490.7 861.4,492.6 862.0,494.5 862.7,496.4 863.3,498.3 863.9,500.2 864.5,502.1 865.2,504.0 865.8,505.9 866.4,507.8 867.0,509.7 867.6,511.6 868.1,513.5 868.7,515.5 869.3,517.4 869.9,519.3 870.4,521.2 871.0,523.1 871.5,525.1 872.1,527.0 872.6,528.9 873.1,530.9 873.7,532.8 874.2,534.7 874.7,536.6 875.2,538.6 875.7,540.5 876.2,542.5 876.7,544.4 877.2,546.3 877.7,548.3 878.2,550.2 878.7,552.2 879.2,554.1 879.6,556.1 880.1,558.0 880.5,560.0 881.0,561.9 881.4,563.9 881.9,565.8 882.3,567.8 882.7,569.8 883.2,571.7 883.6,573.7 884.0,575.6 884.4,577.6 884.8,579.6 885.2,581.5 885.6,583.5 886.0,585.5 886.4,587.4 886.8,589.4 887.2,591.4 887.6,593.3 887.9,595.3 888.3,597.3 888.7,599.3 889.0,601.2 889.4,603.2 889.7,605.2 890.1,607.2 890.4,609.1 890.8,611.1 891.1,613.1 891.4,615.1 891.8,617.0 892.1,619.0 892.4,621.0 892.8,623.0 893.1,625.0 893.4,626.9 893.7,628.9 894.0,630.9 894.3,632.9 894.7,634.9 895.0,636.8 895.3,638.8 895.6,640.8 895.9,642.8 896.2,644.8 896.5,646.8 896.8,648.7 897.1,650.7 897.4,652.7 897.7,654.7 898.0,656.7 898.3,658.7 898.6,660.6 898.9,662.6 899.2,664.6 899.5,666.6 899.8,668.6 900.1,670.6 900.3,672.5 900.6,674.5 900.9,676.5 901.2,678.5 901.5,680.5 901.8,682.5 902.1,684.4 902.4,686.4 902.7,688.4 903.0,690.4 903.3,692.4 903.6,694.3 903.9,696.3 904.2,698.3 904.5,700.3 904.8,702.3 905.1,704.2 905.4,706.2 905.7,708.2 906.0,710.2 906.2,712.2 906.5,714.1 906.8,716.1 907.1,718.1 907.3,720.1 907.6,722.1 907.8,724.1 908.1,726.0 908.3,728.0 908.6,730.0 908.8,732.0 909.1,734.0 909.3,736.0 909.5,738.0 909.7,740.0 909.9,742.0 910.1,744.0 910.3,746.0 910.5,748.0 910.7,750.0 910.8,752.0 911.0,754.0 911.1,756.0 911.3,758.0 911.4,760.0" fill="none" stroke="#857cb2" stroke-width="2.1" stroke-linejoin="round" stroke-linecap="round"/>
<path d="M117.6,96.0 L117.1,94.8 117.1,92.4 117.4,89.6 118.2,87.2 119.4,86.2 121.0,86.9 122.6,87.9 124.3,88.9 125.9,89.9 127.6,90.9 129.2,92.0 130.9,93.0 132.6,94.0 134.3,95.0 136.0,96.0 137.8,97.0 139.5,98.0 141.2,99.0 143.0,100.0 144.7,101.0 146.5,101.9 148.2,102.9 150.0,103.8 151.8,104.8 153.6,105.7 155.4,106.6 157.2,107.5 159.0,108.3 160.8,109.2 162.6,110.1 164.4,110.9 166.3,111.7 168.1,112.5 169.9,113.3 171.8,114.1 173.6,114.9 175.5,115.7 177.3,116.4 179.2,117.2 181.1,117.9 182.9,118.7 184.8,119.4 186.7,120.1 188.5,120.9 190.4,121.6 192.3,122.3 194.2,123.0 196.1,123.7 198.0,124.4 199.8,125.1 201.7,125.8 203.6,126.5 205.5,127.2 207.4,127.9 209.3,128.5 211.2,129.2 213.0,129.9 214.9,130.6 216.8,131.3 218.7,132.0 220.6,132.7 222.5,133.4 224.3,134.1 226.2,134.8 228.1,135.5 230.0,136.3 231.8,137.0 233.7,137.7 235.6,138.4 237.4,139.2 239.3,139.9 241.1,140.7 243.0,141.4 244.9,142.2 246.7,142.9 248.6,143.7 250.4,144.5 252.3,145.2 254.1,146.0 255.9,146.8 257.8,147.5 259.6,148.3 261.5,149.1 263.3,149.9 265.2,150.7 267.0,151.4 268.8,152.2 270.7,153.0 272.5,153.8 274.4,154.6 276.2,155.4 278.0,156.2 279.9,156.9 281.7,157.7 283.5,158.5 285.4,159.3 287.2,160.1 289.1,160.9 290.9,161.7 292.7,162.5 294.6,163.3 296.4,164.0 298.2,164.8 300.1,165.6 301.9,166.4 303.8,167.2 305.6,167.9 307.5,168.7 309.3,169.5 311.2,170.3 313.0,171.0 314.9,171.8 316.7,172.5 318.6,173.3 320.4,174.1 322.3,174.8 324.1,175.5 326.0,176.3 327.9,177.0 329.7,177.8 331.6,178.5 333.5,179.2 335.3,179.9 337.2,180.7 339.1,181.4 341.0,182.1 342.9,182.8 344.7,183.5 346.6,184.2 348.5,184.8 350.4,185.5 352.3,186.2 354.2,186.9 356.1,187.5 358.0,188.2 359.9,188.9 361.8,189.5 363.7,190.2 365.6,190.8 367.5,191.5 369.4,192.1 371.4,192.7 373.3,193.4 375.2,194.0 377.1,194.7 379.0,195.3 380.9,195.9 382.9,196.6 384.8,197.2 386.7,197.8 388.6,198.4 390.5,199.1 392.5,199.7 394.4,200.3 396.3,200.9 398.2,201.6 400.1,202.2 402.1,202.8 404.0,203.4 405.9,204.0 407.8,204.7 409.7,205.3 411.7,205.9 413.6,206.6 415.5,207.2 417.4,207.8 419.3,208.4 421.2,209.1 423.2,209.7 425.1,210.4 427.0,211.0 428.9,211.6 430.8,212.3 432.7,212.9 434.6,213.6 436.5,214.3 438.4,214.9 440.3,215.6 442.2,216.2 444.1,216.9 446.0,217.6 447.9,218.3 449.8,219.0 451.7,219.6 453.5,220.3 455.4,221.0 457.3,221.7 459.2,222.5 461.0,223.2 462.9,223.9 464.8,224.6 466.6,225.4 468.5,226.1 470.3,226.8 472.2,227.6 474.0,228.4 475.9,229.1 477.7,229.9 479.6,230.7 481.4,231.5 483.2,232.3 485.1,233.1 486.9,233.9 488.7,234.7 490.5,235.5 492.3,236.4 494.1,237.2 495.9,238.1 497.7,238.9 499.5,239.8 501.3,240.7 503.1,241.6 504.8,242.5 506.6,243.4 508.4,244.3 510.1,245.3 511.9,246.2 513.6,247.1 515.4,248.1 517.1,249.1 518.8,250.1 520.6,251.1 522.3,252.1 524.0,253.1 525.7,254.1 527.4,255.2 529.1,256.2 530.8,257.3 532.5,258.4 534.1,259.5 535.8,260.6 537.5,261.7 539.1,262.8 540.8,263.9 542.4,265.0 544.1,266.2 545.7,267.3 547.4,268.5 549.0,269.7 550.6,270.8 552.2,272.0 553.9,273.2 555.5,274.4 557.1,275.6 558.7,276.8 560.3,278.1 561.9,279.3 563.5,280.5 565.1,281.8 566.6,283.0 568.2,284.3 569.8,285.5 571.4,286.8 572.9,288.1 574.5,289.4 576.0,290.6 577.6,291.9 579.2,293.2 580.7,294.5 582.2,295.8 583.8,297.1 585.3,298.5 586.9,299.8 588.4,301.1 589.9,302.4 591.4,303.8 593.0,305.1 594.5,306.4 596.0,307.8 597.5,309.1 599.0,310.5 600.5,311.8 602.0,313.2 603.5,314.5 605.0,315.9 606.5,317.2 608.0,318.6 609.5,320.0 611.0,321.3 612.5,322.7 614.0,324.0 615.5,325.4 617.0,326.8 618.4,328.1 619.9,329.5 621.4,330.9 622.9,332.2 624.3,333.6 625.8,335.0 627.3,336.3 628.7,337.7 630.2,339.1 631.7,340.5 633.1,341.8 634.6,343.2 636.0,344.6 637.5,346.0 638.9,347.4 640.4,348.7 641.8,350.1 643.2,351.5 644.7,352.9 646.1,354.3 647.5,355.7 648.9,357.1 650.4,358.5 651.8,359.9 653.2,361.3 654.6,362.8 656.0,364.2 657.3,365.6 658.7,367.1 660.1,368.5 661.5,370.0 662.8,371.4 664.2,372.9 665.5,374.3 666.9,375.8 668.2,377.3 669.5,378.8 670.9,380.3 672.2,381.8 673.5,383.3 674.8,384.8 676.1,386.3 677.4,387.8 678.7,389.4 679.9,390.9 681.2,392.5 682.5,394.0 683.7,395.6 684.9,397.2 686.2,398.8 687.4,400.4 688.6,402.0 689.8,403.6 691.0,405.2 692.2,406.8 693.4,408.5 694.5,410.1 695.7,411.7 696.8,413.4 698.0,415.1 699.1,416.7 700.2,418.4 701.3,420.1 702.4,421.8 703.5,423.5 704.5,425.2 705.6,426.9 706.6,428.6 707.7,430.3 708.7,432.1 709.7,433.8 710.7,435.5 711.7,437.3 712.7,439.0 713.6,440.8 714.6,442.5 715.6,444.3 716.5,446.1 717.4,447.9 718.4,449.6 719.3,451.4 720.2,453.2 721.1,455.0 722.0,456.8 722.9,458.6 723.7,460.4 724.6,462.2 725.5,464.0 726.4,465.8 727.2,467.6 728.1,469.4 728.9,471.2 729.8,473.1 730.6,474.9 731.5,476.7 732.3,478.5 733.1,480.3 733.9,482.2 734.8,484.0 735.6,485.8 736.4,487.6 737.2,489.5 738.0,491.3 738.8,493.1 739.6,495.0 740.4,496.8 741.2,498.7 742.0,500.5 742.8,502.3 743.6,504.2 744.3,506.0 745.1,507.9 745.9,509.7 746.6,511.6 747.4,513.4 748.2,515.3 748.9,517.1 749.7,519.0 750.4,520.9 751.2,522.7 751.9,524.6 752.6,526.4 753.4,528.3 754.1,530.2 754.8,532.0 755.5,533.9 756.3,535.8 757.0,537.7 757.7,539.5 758.4,541.4 759.1,543.3 759.8,545.2 760.5,547.0 761.2,548.9 761.9,550.8 762.6,552.7 763.3,554.6 763.9,556.4 764.6,558.3 765.3,560.2 766.0,562.1 766.6,564.0 767.3,565.9 768.0,567.8 768.6,569.7 769.3,571.6 769.9,573.5 770.6,575.4 771.2,577.3 771.9,579.2 772.5,581.1 773.2,583.0 773.8,584.9 774.4,586.8 775.0,588.7 775.7,590.6 776.3,592.5 776.9,594.4 777.5,596.3 778.2,598.2 778.8,600.1 779.4,602.0 780.0,603.9 780.6,605.8 781.2,607.8 781.8,609.7 782.4,611.6 783.0,613.5 783.6,615.4 784.1,617.4 784.7,619.3 785.3,621.2 785.9,623.1 786.5,625.0 787.0,627.0 787.6,628.9 788.2,630.8 788.8,632.7 789.3,634.7 789.9,636.6 790.4,638.5 791.0,640.4 791.6,642.4 792.1,644.3 792.7,646.2 793.2,648.2 793.8,650.1 794.3,652.0 794.8,654.0 795.4,655.9 795.9,657.8 796.5,659.8 797.0,661.7 797.5,663.6 798.0,665.6 798.6,667.5 799.1,669.5 799.6,671.4 800.1,673.3 800.7,675.3 801.2,677.2 801.7,679.2 802.2,681.1 802.7,683.0 803.2,685.0 803.7,686.9 804.2,688.9 804.7,690.8 805.2,692.8 805.7,694.7 806.2,696.7 806.7,698.6 807.2,700.5 807.7,702.5 808.2,704.4 808.7,706.4 809.2,708.3 809.6,710.3 810.1,712.2 810.6,714.2 811.1,716.1 811.6,718.1 812.0,720.0 812.5,722.0 813.0,723.9 813.5,725.9 813.9,727.8 814.4,729.8 814.9,731.7 815.3,733.7 815.8,735.6 816.3,737.6 816.7,739.5 817.2,741.5 817.6,743.4 818.1,745.4 818.5,747.3 819.0,749.3 819.5,751.2 819.9,753.2 820.4,755.1 820.8,757.1 821.3,759.0 821.7,761.0" fill="none" stroke="#2a2a9e" stroke-width="3.0" stroke-linejoin="round" stroke-linecap="round"/>
<path d="M118.5,283.5 L119.3,285.3 120.1,287.0 120.9,288.9 121.8,290.7 122.6,292.5 123.5,294.4 124.4,296.2 125.3,298.1 126.3,299.9 127.2,301.7 128.3,303.5 129.3,305.3 130.4,307.0 131.5,308.7 132.7,310.3 133.9,311.9 135.1,313.5 136.4,315.0 137.8,316.4 139.2,317.7 140.7,319.0 142.2,320.2 143.8,321.3 145.4,322.3 147.1,323.3 148.8,324.2 150.6,325.0 152.4,325.8 154.3,326.6 156.1,327.3 158.0,327.9 159.9,328.6 161.8,329.2 163.7,329.8 165.6,330.4 167.6,331.0 169.5,331.6 171.4,332.1 173.4,332.7 175.3,333.2 177.3,333.8 179.2,334.3 181.2,334.8 183.2,335.3 185.1,335.8 187.1,336.3 189.0,336.9 191.0,337.4 193.0,337.9 194.9,338.4 196.9,338.9 198.8,339.4 200.8,339.9 202.7,340.5 204.7,341.0 206.6,341.5 208.6,342.0 210.5,342.5 212.4,343.0 214.4,343.6 216.3,344.1 218.3,344.6 220.2,345.1 222.2,345.7 224.1,346.2 226.0,346.7 228.0,347.2 229.9,347.8 231.8,348.3 233.8,348.8 235.7,349.4 237.6,349.9 239.6,350.4 241.5,350.9 243.4,351.5 245.4,352.0 247.3,352.6 249.2,353.1 251.1,353.6 253.1,354.2 255.0,354.7 256.9,355.3 258.9,355.8 260.8,356.4 262.7,356.9 264.6,357.5 266.5,358.0 268.5,358.6 270.4,359.1 272.3,359.7 274.2,360.2 276.2,360.8 278.1,361.3 280.0,361.9 281.9,362.5 283.8,363.0 285.8,363.6 287.7,364.2 289.6,364.7 291.5,365.3 293.5,365.9 295.4,366.5 297.3,367.0 299.2,367.6 301.1,368.2 303.1,368.8 305.0,369.4 306.9,370.0 308.8,370.6 310.7,371.1 312.6,371.7 314.6,372.3 316.5,372.9 318.4,373.5 320.3,374.1 322.2,374.8 324.2,375.4 326.1,376.0 328.0,376.6 329.9,377.2 331.8,377.8 333.7,378.4 335.6,379.1 337.6,379.7 339.5,380.3 341.4,381.0 343.3,381.6 345.2,382.2 347.1,382.9 349.0,383.5 350.9,384.2 352.8,384.8 354.7,385.5 356.6,386.1 358.5,386.8 360.4,387.5 362.3,388.1 364.2,388.8 366.1,389.5 368.0,390.1 369.9,390.8 371.8,391.5 373.7,392.2 375.6,392.9 377.5,393.6 379.4,394.3 381.3,395.0 383.2,395.7 385.1,396.4 387.0,397.1 388.8,397.8 390.7,398.5 392.6,399.2 394.5,400.0 396.4,400.7 398.2,401.4 400.1,402.2 402.0,402.9 403.9,403.6 405.7,404.4 407.6,405.2 409.5,405.9 411.3,406.7 413.2,407.4 415.0,408.2 416.9,409.0 418.7,409.8 420.6,410.5 422.5,411.3 424.3,412.1 426.1,412.9 428.0,413.7 429.8,414.5 431.7,415.3 433.5,416.2 435.3,417.0 437.2,417.8 439.0,418.6 440.8,419.5 442.7,420.3 444.5,421.1 446.3,422.0 448.1,422.8 449.9,423.7 451.8,424.6 453.6,425.4 455.4,426.3 457.2,427.2 459.0,428.1 460.8,429.0 462.6,429.8 464.4,430.7 466.2,431.6 468.0,432.6 469.7,433.5 471.5,434.4 473.3,435.3 475.1,436.2 476.9,437.2 478.6,438.1 480.4,439.1 482.2,440.0 483.9,441.0 485.7,442.0 487.4,442.9 489.2,443.9 490.9,444.9 492.7,445.9 494.4,446.9 496.2,447.9 497.9,448.9 499.6,449.9 501.4,450.9 503.1,451.9 504.8,453.0 506.5,454.0 508.2,455.0 509.9,456.1 511.6,457.2 513.3,458.2 515.0,459.3 516.7,460.4 518.4,461.5 520.1,462.5 521.8,463.6 523.4,464.8 525.1,465.9 526.8,467.0 528.4,468.1 530.1,469.3 531.7,470.4 533.4,471.5 535.0,472.7 536.6,473.9 538.2,475.1 539.9,476.2 541.5,477.4 543.1,478.6 544.7,479.8 546.3,481.0 547.9,482.3 549.4,483.5 551.0,484.7 552.6,486.0 554.1,487.3 555.7,488.5 557.2,489.8 558.8,491.1 560.3,492.4 561.8,493.7 563.4,495.0 564.9,496.3 566.4,497.6 567.9,499.0 569.4,500.3 570.9,501.7 572.3,503.1 573.8,504.4 575.3,505.8 576.7,507.2 578.2,508.6 579.6,510.0 581.0,511.5 582.4,512.9 583.9,514.3 585.3,515.8 586.6,517.3 588.0,518.7 589.4,520.2 590.8,521.7 592.1,523.2 593.5,524.7 594.8,526.2 596.1,527.7 597.5,529.2 598.8,530.8 600.1,532.3 601.4,533.9 602.6,535.4 603.9,537.0 605.2,538.6 606.4,540.2 607.7,541.8 608.9,543.4 610.1,545.0 611.3,546.6 612.5,548.2 613.7,549.8 614.8,551.5 616.0,553.1 617.2,554.8 618.3,556.5 619.4,558.1 620.5,559.8 621.6,561.5 622.7,563.2 623.8,564.9 624.9,566.6 625.9,568.3 626.9,570.0 628.0,571.7 629.0,573.5 630.0,575.2 631.0,577.0 632.0,578.7 632.9,580.5 633.9,582.3 634.8,584.0 635.7,585.8 636.6,587.6 637.5,589.4 638.4,591.2 639.3,593.0 640.1,594.8 640.9,596.6 641.8,598.5 642.6,600.3 643.4,602.1 644.1,604.0 644.9,605.8 645.7,607.7 646.4,609.5 647.1,611.4 647.8,613.3 648.5,615.1 649.2,617.0 649.9,618.9 650.5,620.8 651.2,622.7 651.8,624.6 652.5,626.5 653.1,628.4 653.7,630.3 654.3,632.2 654.9,634.1 655.4,636.1 656.0,638.0 656.6,639.9 657.1,641.9 657.7,643.8 658.2,645.7 658.7,647.7 659.2,649.6 659.7,651.6 660.2,653.5 660.7,655.5 661.2,657.4 661.7,659.4 662.2,661.3 662.7,663.3 663.1,665.2 663.6,667.2 664.0,669.1 664.5,671.1 664.9,673.1 665.4,675.0 665.8,677.0 666.2,679.0 666.7,680.9 667.1,682.9 667.5,684.8 668.0,686.8 668.4,688.8 668.9,690.7 669.4,692.7 669.8,694.6 670.4,696.5 670.9,698.4 671.5,700.3 672.1,702.2 672.7,704.1 673.4,706.0 674.2,707.8 674.9,709.7 675.8,711.5 676.6,713.3 677.6,715.1 678.5,716.8 679.5,718.6 680.5,720.3 681.6,722.1 682.7,723.8 683.8,725.5 684.9,727.2 686.1,728.8 687.3,730.5 688.5,732.2 689.7,733.8 690.9,735.5 692.1,737.1 693.3,738.7 694.6,740.3 695.8,742.0 697.0,743.6 698.3,745.2 699.5,746.8 700.7,748.4 702.0,750.0 703.2,751.5 704.4,753.1 705.6,754.7 706.7,756.3 707.9,757.9 709.0,759.5" fill="none" stroke="#a8200a" stroke-width="4.5" stroke-linejoin="round" stroke-linecap="round"/>
<path d="M118.5,285.0 L119.1,287.0 119.8,288.9 120.5,290.8 121.3,292.8 122.0,294.6 122.9,296.5 123.7,298.4 124.6,300.2 125.6,302.0 126.6,303.8 127.6,305.5 128.7,307.2 129.8,308.9 130.9,310.5 132.1,312.1 133.3,313.6 134.6,315.1 135.9,316.6 137.3,318.0 138.6,319.4 140.1,320.7 141.5,322.0 143.1,323.2 144.6,324.4 146.2,325.5 147.8,326.5 149.5,327.5 151.2,328.5 153.0,329.4 154.7,330.2 156.5,331.0 158.4,331.8 160.2,332.6 162.1,333.3 164.0,333.9 165.9,334.6 167.8,335.2 169.7,335.9 171.7,336.5 173.6,337.1 175.5,337.7 177.5,338.3 179.4,338.9 181.3,339.4 183.3,340.0 185.2,340.6 187.2,341.1 189.1,341.7 191.0,342.3 193.0,342.8 194.9,343.4 196.9,343.9 198.8,344.4 200.8,344.9 202.7,345.5 204.7,346.0 206.6,346.5 208.6,347.0 210.5,347.5 212.5,348.0 214.4,348.5 216.4,349.0 218.3,349.5 220.3,349.9 222.2,350.4 224.2,350.9 226.1,351.4 228.1,351.8 230.0,352.3 232.0,352.8 233.9,353.3 235.9,353.7 237.8,354.2 239.8,354.7 241.7,355.1 243.6,355.6 245.6,356.1 247.5,356.6 249.5,357.1 251.4,357.5 253.4,358.0 255.3,358.5 257.2,359.0 259.2,359.5 261.1,360.0 263.0,360.5 265.0,361.0 266.9,361.5 268.8,362.1 270.8,362.6 272.7,363.1 274.6,363.7 276.5,364.2 278.4,364.8 280.4,365.3 282.3,365.9 284.2,366.5 286.1,367.1 288.0,367.7 289.9,368.3 291.8,368.9 293.7,369.5 295.6,370.1 297.5,370.7 299.4,371.4 301.3,372.0 303.2,372.6 305.1,373.3 307.0,373.9 308.9,374.6 310.8,375.2 312.7,375.9 314.6,376.6 316.5,377.2 318.4,377.9 320.3,378.6 322.2,379.2 324.1,379.9 326.0,380.6 327.8,381.3 329.7,381.9 331.6,382.6 333.5,383.3 335.4,383.9 337.3,384.6 339.2,385.3 341.1,386.0 343.0,386.6 344.9,387.3 346.8,388.0 348.7,388.6 350.6,389.3 352.5,389.9 354.4,390.6 356.3,391.2 358.2,391.9 360.1,392.5 362.1,393.2 364.0,393.8 365.9,394.5 367.8,395.1 369.7,395.8 371.6,396.4 373.5,397.1 375.4,397.7 377.3,398.4 379.2,399.1 381.1,399.7 383.0,400.4 384.9,401.1 386.7,401.8 388.6,402.5 390.5,403.2 392.4,403.9 394.3,404.6 396.1,405.3 398.0,406.1 399.9,406.8 401.7,407.6 403.6,408.4 405.4,409.1 407.2,409.9 409.1,410.7 410.9,411.5 412.7,412.4 414.6,413.2 416.4,414.0 418.2,414.9 420.0,415.7 421.8,416.6 423.6,417.5 425.4,418.3 427.2,419.2 429.0,420.1 430.8,421.0 432.5,421.9 434.3,422.9 436.1,423.8 437.9,424.7 439.6,425.7 441.4,426.6 443.2,427.5 444.9,428.5 446.7,429.5 448.4,430.4 450.2,431.4 452.0,432.4 453.7,433.4 455.4,434.3 457.2,435.3 458.9,436.3 460.7,437.3 462.4,438.3 464.1,439.3 465.9,440.4 467.6,441.4 469.3,442.4 471.1,443.4 472.8,444.4 474.5,445.4 476.3,446.5 478.0,447.5 479.7,448.5 481.4,449.5 483.1,450.6 484.9,451.6 486.6,452.6 488.3,453.7 490.0,454.7 491.7,455.7 493.5,456.8 495.2,457.8 496.9,458.8 498.6,459.9 500.3,460.9 502.1,461.9 503.8,463.0 505.5,464.0 507.2,465.0 508.9,466.1 510.7,467.1 512.4,468.2 514.1,469.2 515.8,470.2 517.5,471.3 519.3,472.3 521.0,473.3 522.7,474.4 524.4,475.4 526.1,476.4 527.9,477.5 529.6,478.5 531.3,479.6 533.0,480.6 534.7,481.7 536.5,482.7 538.2,483.8 539.9,484.8 541.6,485.9 543.2,487.0 544.9,488.1 546.6,489.2 548.3,490.3 549.9,491.5 551.5,492.6 553.2,493.8 554.8,494.9 556.4,496.1 558.0,497.3 559.5,498.6 561.1,499.8 562.6,501.1 564.2,502.4 565.7,503.7 567.1,505.0 568.6,506.4 570.1,507.7 571.5,509.1 572.9,510.5 574.3,512.0 575.7,513.4 577.1,514.9 578.4,516.4 579.8,517.8 581.1,519.3 582.5,520.9 583.8,522.4 585.1,523.9 586.4,525.5 587.7,527.0 588.9,528.6 590.2,530.1 591.5,531.7 592.8,533.3 594.0,534.8 595.3,536.4 596.5,538.0 597.8,539.6 599.0,541.2 600.3,542.7 601.5,544.3 602.7,545.9 604.0,547.5 605.2,549.1 606.4,550.7 607.6,552.3 608.8,553.9 610.0,555.5 611.1,557.2 612.3,558.8 613.4,560.4 614.5,562.1 615.6,563.8 616.7,565.5 617.8,567.1 618.8,568.8 619.8,570.6 620.8,572.3 621.9,574.0 622.8,575.7 623.8,577.5 624.8,579.2 625.7,581.0 626.7,582.8 627.6,584.5 628.5,586.3 629.4,588.1 630.3,589.9 631.2,591.7 632.1,593.5 632.9,595.3 633.8,597.1 634.6,599.0 635.5,600.8 636.3,602.6 637.1,604.4 638.0,606.3 638.8,608.1 639.6,609.9 640.4,611.8 641.2,613.6 642.0,615.5 642.8,617.3 643.5,619.2 644.3,621.0 645.1,622.9 645.9,624.7 646.6,626.6 647.4,628.4 648.1,630.3 648.8,632.2 649.6,634.0 650.3,635.9 650.9,637.8 651.6,639.7 652.3,641.6 652.9,643.5 653.5,645.4 654.1,647.3 654.7,649.2 655.3,651.1 655.8,653.1 656.3,655.0 656.8,657.0 657.3,658.9 657.7,660.9 658.2,662.8 658.6,664.8 659.0,666.8 659.4,668.8 659.8,670.8 660.2,672.7 660.6,674.7 661.0,676.7 661.4,678.7 661.8,680.6 662.3,682.6 662.7,684.6 663.2,686.5 663.6,688.5 664.1,690.4 664.6,692.3 665.1,694.3 665.7,696.2 666.3,698.1 666.9,699.9 667.5,701.8 668.2,703.7 668.9,705.5 669.7,707.3 670.5,709.1 671.3,710.9 672.2,712.7 673.1,714.4 674.1,716.2 675.1,717.9 676.1,719.6 677.2,721.3 678.3,722.9 679.4,724.6 680.6,726.2 681.8,727.9 683.0,729.5 684.2,731.1 685.4,732.7 686.7,734.3 687.9,735.9 689.2,737.5 690.5,739.1 691.7,740.7 693.0,742.2 694.3,743.8 695.6,745.4 696.9,746.9 698.2,748.5 699.4,750.1 700.7,751.6 701.9,753.2 703.1,754.8 704.3,756.3 705.5,757.9 706.7,759.5" fill="none" stroke="#ff8a10" stroke-width="4.5" stroke-linejoin="round" stroke-linecap="round"/>
<path d="M118.5,287.0 L119.2,288.9 119.9,290.8 120.6,292.6 121.3,294.5 122.1,296.4 122.9,298.3 123.8,300.2 124.6,302.1 125.6,303.9 126.5,305.7 127.5,307.5 128.5,309.3 129.6,311.0 130.7,312.8 131.9,314.4 133.0,316.0 134.3,317.6 135.6,319.1 136.9,320.6 138.2,322.0 139.6,323.4 141.1,324.7 142.6,326.0 144.1,327.2 145.7,328.3 147.3,329.4 148.9,330.4 150.6,331.4 152.3,332.3 154.0,333.2 155.7,334.1 157.5,334.9 159.3,335.7 161.2,336.5 163.0,337.2 164.9,337.9 166.8,338.5 168.7,339.2 170.6,339.8 172.5,340.4 174.5,341.0 176.4,341.6 178.4,342.1 180.4,342.7 182.3,343.2 184.3,343.7 186.3,344.3 188.2,344.8 190.2,345.3 192.2,345.9 194.1,346.4 196.1,346.9 198.0,347.4 200.0,348.0 202.0,348.5 203.9,349.0 205.9,349.5 207.8,350.1 209.8,350.6 211.7,351.1 213.7,351.6 215.6,352.2 217.6,352.7 219.5,353.2 221.4,353.7 223.4,354.3 225.3,354.8 227.3,355.3 229.2,355.8 231.1,356.4 233.1,356.9 235.0,357.4 236.9,358.0 238.9,358.5 240.8,359.0 242.7,359.6 244.7,360.1 246.6,360.6 248.5,361.2 250.4,361.7 252.4,362.2 254.3,362.8 256.2,363.3 258.1,363.9 260.1,364.4 262.0,365.0 263.9,365.5 265.8,366.0 267.7,366.6 269.7,367.2 271.6,367.7 273.5,368.3 275.4,368.8 277.3,369.4 279.2,369.9 281.2,370.5 283.1,371.1 285.0,371.6 286.9,372.2 288.8,372.8 290.7,373.4 292.6,373.9 294.6,374.5 296.5,375.1 298.4,375.7 300.3,376.3 302.2,376.9 304.1,377.5 306.0,378.1 308.0,378.7 309.9,379.3 311.8,379.9 313.7,380.5 315.6,381.1 317.5,381.7 319.4,382.3 321.3,383.0 323.2,383.6 325.2,384.2 327.1,384.8 329.0,385.5 330.9,386.1 332.8,386.8 334.7,387.4 336.6,388.1 338.5,388.7 340.4,389.4 342.3,390.0 344.2,390.7 346.1,391.4 348.0,392.1 349.9,392.7 351.8,393.4 353.7,394.1 355.6,394.8 357.4,395.5 359.3,396.2 361.2,396.9 363.1,397.6 365.0,398.3 366.9,399.0 368.7,399.8 370.6,400.5 372.5,401.2 374.4,402.0 376.2,402.7 378.1,403.5 380.0,404.2 381.8,405.0 383.7,405.7 385.6,406.5 387.4,407.3 389.3,408.1 391.1,408.8 393.0,409.6 394.8,410.4 396.7,411.2 398.5,412.0 400.3,412.9 402.2,413.7 404.0,414.5 405.8,415.3 407.7,416.2 409.5,417.0 411.3,417.9 413.1,418.7 414.9,419.6 416.7,420.5 418.6,421.3 420.4,422.2 422.2,423.1 424.0,424.0 425.8,424.9 427.5,425.8 429.3,426.7 431.1,427.6 432.9,428.5 434.7,429.5 436.5,430.4 438.2,431.4 440.0,432.3 441.8,433.3 443.5,434.2 445.3,435.2 447.0,436.1 448.8,437.1 450.5,438.1 452.3,439.1 454.0,440.1 455.8,441.1 457.5,442.1 459.2,443.1 461.0,444.1 462.7,445.1 464.4,446.1 466.2,447.1 467.9,448.2 469.6,449.2 471.3,450.2 473.0,451.3 474.7,452.3 476.4,453.4 478.1,454.4 479.8,455.5 481.5,456.5 483.2,457.6 484.9,458.7 486.6,459.8 488.3,460.8 490.0,461.9 491.7,463.0 493.3,464.1 495.0,465.2 496.7,466.3 498.4,467.4 500.0,468.5 501.7,469.6 503.4,470.7 505.0,471.8 506.7,472.9 508.3,474.0 510.0,475.2 511.7,476.3 513.3,477.4 515.0,478.6 516.6,479.7 518.3,480.8 519.9,482.0 521.5,483.1 523.2,484.3 524.8,485.5 526.5,486.6 528.1,487.8 529.7,489.0 531.4,490.1 533.0,491.3 534.6,492.5 536.3,493.7 537.9,494.9 539.5,496.1 541.2,497.3 542.8,498.5 544.4,499.7 546.0,500.9 547.6,502.1 549.3,503.4 550.9,504.6 552.5,505.9 554.1,507.1 555.7,508.4 557.2,509.6 558.8,510.9 560.4,512.2 562.0,513.5 563.5,514.8 565.0,516.1 566.6,517.4 568.1,518.7 569.6,520.1 571.1,521.4 572.6,522.8 574.0,524.2 575.5,525.6 576.9,527.0 578.3,528.4 579.7,529.8 581.1,531.3 582.5,532.7 583.8,534.2 585.2,535.7 586.5,537.2 587.8,538.7 589.1,540.2 590.3,541.7 591.6,543.3 592.8,544.8 594.0,546.4 595.3,548.0 596.4,549.6 597.6,551.2 598.8,552.8 599.9,554.4 601.1,556.0 602.2,557.7 603.3,559.3 604.4,561.0 605.5,562.7 606.6,564.3 607.7,566.0 608.7,567.7 609.7,569.4 610.8,571.1 611.8,572.9 612.8,574.6 613.8,576.3 614.8,578.1 615.8,579.8 616.7,581.6 617.7,583.4 618.7,585.1 619.6,586.9 620.5,588.7 621.5,590.5 622.4,592.3 623.3,594.1 624.2,595.9 625.1,597.7 626.0,599.5 626.9,601.3 627.7,603.1 628.6,605.0 629.5,606.8 630.3,608.6 631.2,610.5 632.0,612.3 632.9,614.1 633.7,616.0 634.5,617.8 635.4,619.7 636.2,621.5 637.0,623.4 637.8,625.2 638.6,627.1 639.5,628.9 640.3,630.8 641.1,632.6 641.9,634.5 642.7,636.4 643.5,638.2 644.3,640.1 645.1,641.9 645.9,643.8 646.7,645.6 647.5,647.5 648.3,649.3 649.1,651.1 650.0,653.0 650.8,654.8 651.6,656.6 652.4,658.5 653.3,660.3 654.1,662.1 655.0,663.9 655.8,665.7 656.7,667.5 657.6,669.3 658.5,671.1 659.4,672.9 660.3,674.6 661.2,676.4 662.2,678.1 663.1,679.9 664.1,681.6 665.1,683.3 666.1,685.1 667.1,686.8 668.2,688.5 669.2,690.1 670.3,691.8 671.4,693.5 672.5,695.1 673.6,696.7 674.8,698.4 675.9,700.0 677.1,701.6 678.3,703.1 679.6,704.7 680.8,706.3 682.1,707.8 683.4,709.3 684.7,710.9 686.1,712.4 687.4,713.9 688.8,715.3 690.2,716.8 691.6,718.3 693.0,719.7 694.4,721.2 695.8,722.6 697.3,724.1 698.7,725.5 700.2,726.9 701.6,728.4 703.1,729.8 704.5,731.2 706.0,732.6 707.5,734.0 709.0,735.4 710.4,736.8 711.9,738.2 713.4,739.6 714.8,741.0 716.3,742.4 717.7,743.8 719.2,745.2 720.6,746.6 722.0,748.1 723.4,749.5 724.9,750.9 726.2,752.3 727.6,753.7 729.0,755.2 730.3,756.6 731.7,758.0 733.0,759.5" fill="none" stroke="#0f9a0f" stroke-width="4.5" stroke-linejoin="round" stroke-linecap="round"/>
<path d="M118.5,289.0 L119.2,290.8 119.9,292.6 120.7,294.4 121.5,296.2 122.3,298.0 123.2,299.8 124.1,301.6 125.0,303.4 126.0,305.2 127.0,306.9 128.0,308.7 129.0,310.5 130.1,312.3 131.2,314.1 132.3,315.8 133.4,317.6 134.5,319.3 135.7,321.0 136.9,322.6 138.2,324.2 139.5,325.7 140.9,327.2 142.3,328.5 143.8,329.8 145.3,331.0 146.9,332.1 148.6,333.2 150.2,334.2 151.9,335.2 153.7,336.1 155.4,336.9 157.2,337.7 159.1,338.5 160.9,339.2 162.8,339.9 164.7,340.5 166.6,341.2 168.5,341.8 170.4,342.4 172.3,343.0 174.3,343.5 176.2,344.1 178.2,344.7 180.1,345.2 182.0,345.8 184.0,346.3 185.9,346.9 187.9,347.4 189.8,347.9 191.7,348.5 193.7,349.0 195.6,349.5 197.6,350.0 199.5,350.6 201.5,351.1 203.4,351.6 205.4,352.1 207.3,352.6 209.2,353.1 211.2,353.6 213.1,354.1 215.1,354.6 217.0,355.1 219.0,355.6 220.9,356.1 222.9,356.6 224.8,357.1 226.7,357.6 228.7,358.1 230.6,358.6 232.6,359.2 234.5,359.7 236.4,360.2 238.4,360.7 240.3,361.2 242.3,361.7 244.2,362.3 246.1,362.8 248.1,363.3 250.0,363.9 251.9,364.4 253.8,364.9 255.8,365.5 257.7,366.0 259.6,366.6 261.5,367.2 263.4,367.7 265.4,368.3 267.3,368.9 269.2,369.5 271.1,370.1 273.0,370.7 274.9,371.3 276.8,371.9 278.7,372.5 280.6,373.2 282.5,373.8 284.4,374.5 286.3,375.1 288.2,375.8 290.1,376.5 292.0,377.2 293.9,377.8 295.8,378.5 297.6,379.2 299.5,379.9 301.4,380.7 303.3,381.4 305.1,382.1 307.0,382.8 308.9,383.6 310.8,384.3 312.6,385.0 314.5,385.8 316.4,386.5 318.2,387.3 320.1,388.0 322.0,388.8 323.8,389.5 325.7,390.3 327.6,391.1 329.4,391.8 331.3,392.6 333.1,393.4 335.0,394.1 336.9,394.9 338.7,395.7 340.6,396.5 342.4,397.2 344.3,398.0 346.1,398.8 348.0,399.5 349.9,400.3 351.7,401.1 353.6,401.9 355.4,402.6 357.3,403.4 359.2,404.1 361.0,404.9 362.9,405.7 364.7,406.4 366.6,407.2 368.4,408.0 370.3,408.8 372.1,409.5 374.0,410.3 375.8,411.1 377.7,411.9 379.5,412.7 381.4,413.5 383.2,414.3 385.0,415.1 386.9,415.9 388.7,416.7 390.5,417.5 392.3,418.3 394.2,419.1 396.0,420.0 397.8,420.8 399.6,421.7 401.4,422.5 403.2,423.4 405.0,424.3 406.8,425.2 408.6,426.1 410.3,427.0 412.1,427.9 413.9,428.8 415.7,429.7 417.4,430.7 419.2,431.6 420.9,432.6 422.7,433.6 424.4,434.6 426.1,435.6 427.9,436.6 429.6,437.6 431.3,438.6 433.0,439.7 434.7,440.7 436.4,441.8 438.1,442.9 439.8,444.0 441.5,445.1 443.1,446.2 444.8,447.3 446.5,448.4 448.1,449.6 449.8,450.7 451.4,451.9 453.1,453.0 454.7,454.2 456.4,455.3 458.0,456.5 459.6,457.7 461.3,458.9 462.9,460.1 464.5,461.3 466.1,462.5 467.8,463.7 469.4,464.9 471.0,466.1 472.6,467.3 474.2,468.6 475.8,469.8 477.4,471.0 479.0,472.2 480.6,473.5 482.2,474.7 483.8,475.9 485.4,477.2 487.0,478.4 488.5,479.6 490.1,480.9 491.7,482.1 493.3,483.3 494.9,484.5 496.5,485.8 498.0,487.0 499.6,488.2 501.2,489.5 502.8,490.7 504.3,492.0 505.9,493.2 507.4,494.5 509.0,495.7 510.5,497.0 512.1,498.3 513.6,499.5 515.2,500.8 516.7,502.1 518.2,503.4 519.7,504.7 521.2,506.0 522.7,507.3 524.2,508.7 525.7,510.0 527.2,511.4 528.6,512.7 530.1,514.1 531.5,515.5 533.0,516.9 534.4,518.3 535.8,519.7 537.2,521.1 538.6,522.6 540.0,524.0 541.4,525.5 542.8,527.0 544.1,528.5 545.5,530.0 546.8,531.5 548.1,533.0 549.5,534.5 550.8,536.1 552.1,537.6 553.4,539.2 554.6,540.7 555.9,542.3 557.2,543.9 558.4,545.5 559.7,547.1 560.9,548.7 562.1,550.3 563.3,551.9 564.5,553.5 565.7,555.1 566.8,556.8 568.0,558.4 569.2,560.1 570.3,561.8 571.4,563.4 572.5,565.1 573.6,566.8 574.7,568.5 575.8,570.2 576.9,571.9 577.9,573.6 578.9,575.3 580.0,577.0 581.0,578.7 582.0,580.4 583.0,582.2 583.9,583.9 584.9,585.6 585.8,587.4 586.8,589.2 587.7,590.9 588.6,592.7 589.4,594.5 590.3,596.3 591.1,598.1 592.0,599.9 592.8,601.7 593.5,603.5 594.3,605.4 595.1,607.2 595.8,609.1 596.5,610.9 597.2,612.8 597.9,614.7 598.5,616.6 599.1,618.5 599.8,620.4 600.4,622.3 601.0,624.2 601.5,626.2 602.1,628.1 602.7,630.0 603.3,632.0 603.8,633.9 604.4,635.8 604.9,637.8 605.5,639.7 606.1,641.6 606.7,643.6 607.2,645.5 607.8,647.4 608.4,649.3 609.1,651.3 609.7,653.2 610.3,655.1 611.0,657.0 611.7,658.9 612.4,660.7 613.1,662.6 613.9,664.5 614.7,666.3 615.5,668.1 616.3,670.0 617.2,671.8 618.1,673.6 619.0,675.3 619.9,677.1 620.9,678.9 621.8,680.6 622.8,682.4 623.8,684.1 624.9,685.9 625.9,687.6 626.9,689.3 628.0,691.0 629.0,692.7 630.1,694.5 631.2,696.2 632.3,697.9 633.3,699.5 634.4,701.2 635.5,702.9 636.6,704.6 637.7,706.3 638.8,708.0 639.9,709.6 641.0,711.3 642.1,713.0 643.3,714.6 644.4,716.3 645.5,717.9 646.7,719.6 647.8,721.2 648.9,722.9 650.1,724.5 651.3,726.2 652.4,727.8 653.6,729.4 654.8,731.0 655.9,732.6 657.1,734.3 658.3,735.9 659.5,737.5 660.7,739.1 661.9,740.7 663.2,742.3 664.4,743.8 665.6,745.4 666.9,747.0 668.1,748.6 669.4,750.2 670.6,751.7 671.9,753.3 673.1,754.8 674.4,756.4 675.7,758.0 677.0,759.5" fill="none" stroke="#1a30ff" stroke-width="4.5" stroke-linejoin="round" stroke-linecap="round"/>
<path d="M118.5,284.0 L118.5,286.0 118.7,288.0 119.0,290.0 119.4,291.9 119.9,293.8 120.5,295.7 121.1,297.5 121.9,299.4 122.7,301.2 123.6,303.0 124.5,304.8 125.5,306.5 126.5,308.3 127.6,310.0 128.7,311.8 129.8,313.5 130.9,315.2 132.0,316.9 133.2,318.6 134.3,320.3 135.5,322.0 136.7,323.6 138.0,325.2 139.3,326.7 140.6,328.2 142.0,329.7 143.4,331.1 144.8,332.4 146.3,333.6 147.8,334.8 149.4,336.0 151.1,337.0 152.7,338.0 154.5,339.0 156.2,339.8 158.0,340.7 159.8,341.5 161.7,342.2 163.5,343.0 165.4,343.7 167.2,344.4 169.1,345.1 171.0,345.8 172.9,346.4 174.8,347.1 176.7,347.7 178.6,348.3 180.5,348.9 182.4,349.5 184.4,350.1 186.3,350.7 188.2,351.2 190.2,351.8 192.1,352.4 194.0,352.9 196.0,353.5 197.9,354.1 199.9,354.6 201.8,355.2 203.7,355.7 205.7,356.3 207.6,356.9 209.5,357.4 211.5,358.0 213.4,358.5 215.4,359.1 217.3,359.7 219.2,360.2 221.2,360.8 223.1,361.4 225.0,361.9 227.0,362.5 228.9,363.1 230.8,363.7 232.8,364.2 234.7,364.8 236.6,365.4 238.5,365.9 240.5,366.5 242.4,367.1 244.3,367.7 246.2,368.3 248.2,368.8 250.1,369.4 252.0,370.0 253.9,370.6 255.9,371.2 257.8,371.8 259.7,372.4 261.6,373.0 263.5,373.6 265.5,374.2 267.4,374.8 269.3,375.4 271.2,376.0 273.1,376.6 275.0,377.2 277.0,377.8 278.9,378.4 280.8,379.0 282.7,379.6 284.6,380.3 286.5,380.9 288.4,381.5 290.3,382.1 292.2,382.8 294.1,383.4 296.0,384.0 297.9,384.7 299.8,385.3 301.7,385.9 303.6,386.6 305.5,387.2 307.4,387.9 309.3,388.5 311.2,389.2 313.1,389.9 315.0,390.5 316.9,391.2 318.8,391.9 320.7,392.5 322.6,393.2 324.4,393.9 326.3,394.6 328.2,395.3 330.1,396.0 332.0,396.7 333.9,397.4 335.7,398.1 337.6,398.8 339.5,399.5 341.4,400.2 343.2,400.9 345.1,401.6 347.0,402.4 348.8,403.1 350.7,403.8 352.6,404.6 354.4,405.3 356.3,406.1 358.2,406.8 360.0,407.6 361.9,408.3 363.7,409.1 365.6,409.9 367.5,410.6 369.3,411.4 371.2,412.2 373.0,413.0 374.9,413.8 376.7,414.6 378.5,415.4 380.4,416.2 382.2,417.0 384.1,417.8 385.9,418.6 387.7,419.4 389.6,420.3 391.4,421.1 393.2,421.9 395.0,422.8 396.9,423.6 398.7,424.5 400.5,425.3 402.3,426.2 404.1,427.0 405.9,427.9 407.8,428.8 409.6,429.7 411.4,430.5 413.2,431.4 415.0,432.3 416.8,433.2 418.6,434.1 420.3,435.0 422.1,436.0 423.9,436.9 425.7,437.8 427.5,438.7 429.3,439.7 431.0,440.6 432.8,441.5 434.6,442.5 436.3,443.5 438.1,444.4 439.9,445.4 441.6,446.3 443.4,447.3 445.1,448.3 446.9,449.3 448.6,450.3 450.4,451.3 452.1,452.3 453.8,453.3 455.6,454.3 457.3,455.3 459.0,456.3 460.8,457.4 462.5,458.4 464.2,459.5 465.9,460.5 467.6,461.6 469.3,462.6 471.0,463.7 472.7,464.7 474.4,465.8 476.1,466.9 477.8,468.0 479.5,469.1 481.2,470.2 482.8,471.3 484.5,472.4 486.2,473.5 487.8,474.6 489.5,475.8 491.2,476.9 492.8,478.0 494.5,479.2 496.1,480.3 497.7,481.5 499.4,482.6 501.0,483.8 502.6,485.0 504.3,486.2 505.9,487.3 507.5,488.5 509.1,489.7 510.7,490.9 512.3,492.2 513.9,493.4 515.5,494.6 517.1,495.8 518.7,497.1 520.3,498.3 521.8,499.5 523.4,500.8 525.0,502.0 526.5,503.3 528.1,504.6 529.7,505.9 531.2,507.1 532.7,508.4 534.3,509.7 535.8,511.0 537.3,512.3 538.9,513.6 540.4,514.9 541.9,516.3 543.4,517.6 544.9,518.9 546.4,520.3 547.9,521.6 549.4,523.0 550.9,524.3 552.4,525.7 553.8,527.1 555.3,528.4 556.8,529.8 558.2,531.2 559.7,532.6 561.1,534.0 562.6,535.4 564.0,536.8 565.4,538.2 566.8,539.7 568.3,541.1 569.7,542.5 571.1,544.0 572.5,545.4 573.9,546.9 575.3,548.3 576.6,549.8 578.0,551.3 579.4,552.7 580.8,554.2 582.1,555.7 583.5,557.2 584.8,558.7 586.1,560.2 587.4,561.8 588.7,563.3 590.0,564.8 591.3,566.4 592.6,568.0 593.8,569.5 595.0,571.1 596.2,572.7 597.4,574.3 598.6,575.9 599.8,577.6 600.9,579.2 602.0,580.9 603.1,582.6 604.1,584.2 605.2,585.9 606.2,587.7 607.2,589.4 608.2,591.1 609.1,592.9 610.1,594.6 611.0,596.4 611.9,598.2 612.8,600.0 613.6,601.8 614.5,603.6 615.4,605.4 616.2,607.2 617.0,609.1 617.8,610.9 618.6,612.7 619.4,614.6 620.2,616.4 621.0,618.3 621.8,620.2 622.6,622.0 623.3,623.9 624.1,625.8 624.9,627.6 625.6,629.5 626.4,631.4 627.1,633.2 627.9,635.1 628.7,637.0 629.4,638.9 630.2,640.7 631.0,642.6 631.7,644.5 632.5,646.3 633.3,648.2 634.1,650.0 634.9,651.9 635.7,653.7 636.6,655.6 637.4,657.4 638.3,659.2 639.1,661.0 640.0,662.8 640.9,664.6 641.8,666.4 642.7,668.2 643.7,670.0 644.6,671.7 645.6,673.4 646.6,675.2 647.6,676.9 648.7,678.6 649.7,680.3 650.8,681.9 651.9,683.6 653.0,685.2 654.2,686.9 655.4,688.5 656.6,690.1 657.8,691.6 659.1,693.2 660.4,694.7 661.7,696.2 663.0,697.7 664.4,699.2 665.8,700.6 667.2,702.1 668.6,703.5 670.0,704.9 671.4,706.4 672.9,707.8 674.3,709.2 675.7,710.6 677.1,712.1 678.6,713.5 680.0,714.9 681.4,716.4 682.8,717.8 684.2,719.3 685.5,720.7 686.9,722.2 688.3,723.7 689.7,725.1 691.1,726.6 692.4,728.0 693.8,729.5 695.2,731.0 696.5,732.4 697.9,733.9 699.3,735.3 700.7,736.8 702.0,738.3 703.4,739.7 704.8,741.2 706.2,742.6 707.6,744.0 709.0,745.5 710.4,746.9 711.8,748.3 713.2,749.8 714.6,751.2 716.1,752.6 717.5,754.0 719.0,755.4 720.4,756.8 721.9,758.1 723.4,759.5" fill="none" stroke="#7a2098" stroke-width="4.5" stroke-linejoin="round" stroke-linecap="round"/>
<line x1="117.4" y1="761" x2="117.4" y2="229" stroke="#87479a" stroke-width="3.6"/>
<path d="M135.6,100.0 L139.0,100.0 L139.0,106.8 L135.6,106.8 Z" fill="#4aa6b6" stroke="#4aa6b6" stroke-width="1.2" opacity="0.85"/>
<path d="M147.5,105.0 L152.0,105.0 L152.0,114.0 L147.5,114.0 Z" fill="#4aa6b6" stroke="#4aa6b6" stroke-width="1.2" opacity="0.85"/>
<path d="M158.0,109.0 L163.5,109.0 L163.5,120.0 L158.0,120.0 Z" fill="#4aa6b6" stroke="#4aa6b6" stroke-width="1.2" opacity="0.85"/>
<path d="M175.0,115.0 L178.5,115.0 L178.5,126.0 L175.0,126.0 Z" fill="#4aa6b6" stroke="#4aa6b6" stroke-width="1.2" opacity="0.85"/>
<path d="M184.5,118.5 L188.5,118.5 L188.5,128.0 L184.5,128.0 Z" fill="#4aa6b6" stroke="#4aa6b6" stroke-width="1.2" opacity="0.85"/>
<path d="M196.0,123.0 L199.0,123.0 L199.0,129.5 L196.0,129.5 Z" fill="#4aa6b6" stroke="#4aa6b6" stroke-width="1.2" opacity="0.85"/>
<path d="M219.0,130.0 L222.0,130.0 L222.0,135.5 L219.0,135.5 Z" fill="#4aa6b6" stroke="#4aa6b6" stroke-width="1.2" opacity="0.85"/>
<path d="M238.0,137.5 L241.0,137.5 L241.0,143.0 L238.0,143.0 Z" fill="#4aa6b6" stroke="#4aa6b6" stroke-width="1.2" opacity="0.85"/>
<path d="M262.0,148.5 L265.0,148.5 L265.0,153.5 L262.0,153.5 Z" fill="#4aa6b6" stroke="#4aa6b6" stroke-width="1.2" opacity="0.85"/>
<path d="M287.0,159.5 L290.0,159.5 L290.0,164.5 L287.0,164.5 Z" fill="#4aa6b6" stroke="#4aa6b6" stroke-width="1.2" opacity="0.85"/>
<path d="M172.5,108.5 L175.0,108.5 L175.0,113.0 L172.5,113.0 Z" fill="#8a80b6" stroke="#8a80b6" stroke-width="1.2" opacity="0.85"/>
<path d="M182.5,108.5 L190.0,108.5 L190.0,114.5 L182.5,114.5 Z" fill="#8a80b6" stroke="#8a80b6" stroke-width="1.2" opacity="0.85"/>
<path d="M196.0,115.5 L202.5,115.5 L202.5,119.5 L196.0,119.5 Z" fill="#8a80b6" stroke="#8a80b6" stroke-width="1.2" opacity="0.85"/>
<path d="M215.0,117.5 L218.7,117.5 L218.7,122.0 L215.0,122.0 Z" fill="#8a80b6" stroke="#8a80b6" stroke-width="1.2" opacity="0.85"/>
<path d="M223.7,119.5 L230.0,119.5 L230.0,123.5 L223.7,123.5 Z" fill="#8a80b6" stroke="#8a80b6" stroke-width="1.2" opacity="0.85"/>
<path d="M242.5,123.5 L250.5,123.5 L250.5,128.5 L242.5,128.5 Z" fill="#8a80b6" stroke="#8a80b6" stroke-width="1.2" opacity="0.85"/>
<path d="M267.5,129.0 L273.5,129.0 L273.5,132.5 L267.5,132.5 Z" fill="#8a80b6" stroke="#8a80b6" stroke-width="1.2" opacity="0.85"/>
<line x1="786.2" y1="760" x2="786.4" y2="754" stroke="#109a10" stroke-width="4.5" stroke-linecap="round"/>
<line x1="409.5" y1="118.0" x2="345.5" y2="132.6" stroke="#222" stroke-width="2.2"/><polyline points="356.8,121.3 345.5,132.6 360.6,137.8" fill="none" stroke="#111" stroke-width="4" stroke-linejoin="miter"/>
<line x1="405.7" y1="523.9" x2="480.4" y2="492.8" stroke="#222" stroke-width="2.2"/><polyline points="471.1,505.8 480.4,492.8 464.6,490.2" fill="none" stroke="#111" stroke-width="4" stroke-linejoin="miter"/>
</svg>
<div class="yl" style="top:745.5px">0.4</div>
<div class="yl" style="top:638.6px">0.5</div>
<div class="yl" style="top:531.8px">0.6</div>
<div class="yl" style="top:424.9px">0.7</div>
<div class="yl" style="top:318.1px">0.8</div>
<div class="yl" style="top:211.2px">0.9</div>
<div class="yl" style="top:104.4px">1</div>
<div class="yl" style="top:-2.5px">1.1</div>
<div class="xl" style="left:76.5px">0</div>
<div class="xl" style="left:219.6px">10</div>
<div class="xl" style="left:362.8px">20</div>
<div class="xl" style="left:505.9px">30</div>
<div class="xl" style="left:649.0px">40</div>
<div class="xl" style="left:792.1px">50</div>
<div class="xl" style="left:935.2px">60</div>
<div class="xl" style="left:1078.4px">70</div>
<div class="xl" style="left:1221.5px">80</div>
<div class="ytitle">Voltage (V)</div>
<div class="xtitle">% Coulombic Efficiency</div>
<div class="note" style="left:422px;top:104px">Nanoscopic VB<sub>2</sub></div>
<div class="note" style="left:166px;top:510px">Macroscopic VB<sub>2</sub></div>
<div class="info">~30 mAh<br>macro vs. nano VB<sub>2</sub><br>30% Timcal C65<br>3,000 ohm load<br>Dry Method</div>
</div></body></html>
